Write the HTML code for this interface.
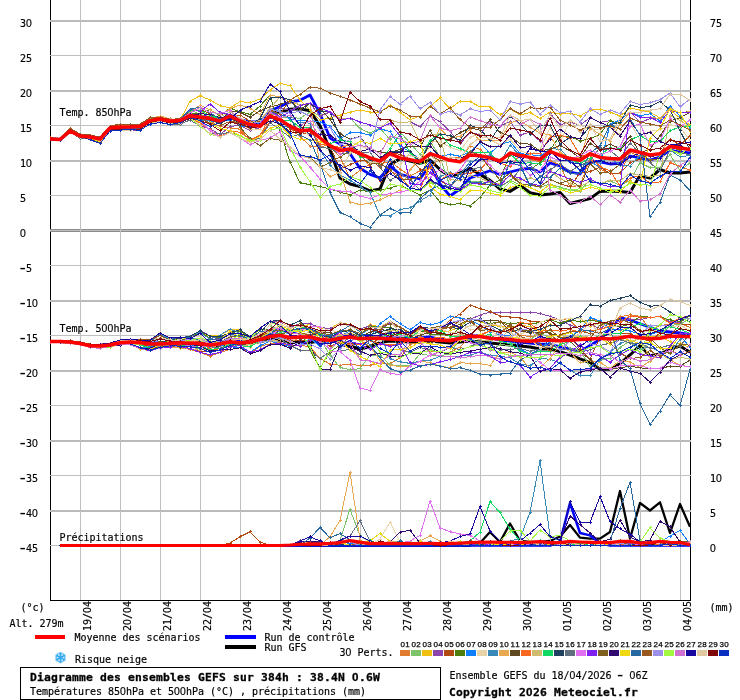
<!DOCTYPE html>
<html lang="fr"><head><meta charset="utf-8"><title>Diagramme des ensembles GEFS</title>
<style>html,body{margin:0;padding:0;background:#fff;overflow:hidden}svg{display:block}text{font-family:"DejaVu Sans Mono", "Liberation Mono", monospace;font-size:10px;fill:#000;stroke:#000;stroke-width:.18px}.b{font-weight:bold;font-size:11.3px;stroke:#000;stroke-width:.3px}.m{fill:none;stroke-width:1;stroke-linejoin:round}.c{shape-rendering:crispEdges}.t{font-size:8px;font-family:"Liberation Sans",sans-serif;stroke:#000;stroke-width:.25px}.z{font-family:"Liberation Sans",sans-serif;font-size:10.4px}.b .z{font-size:11.6px}.h{font-size:18px;stroke-width:0}</style></head><body>
<svg width="740" height="700" viewBox="0 0 740 700">
<rect width="740" height="700" fill="#fff"/>
<g shape-rendering="crispEdges" fill="#000">
<rect x="50" y="0" width="1" height="601"/>
<rect x="690" y="0" width="1" height="601"/>
<rect x="50" y="600" width="641" height="1"/>
</g>
<g shape-rendering="crispEdges">
<rect x="50" y="20" width="641" height="2" fill="#bababa"/>
<rect x="50" y="55" width="641" height="1" fill="#c0c0c0"/>
<rect x="50" y="90" width="641" height="2" fill="#bababa"/>
<rect x="50" y="125" width="641" height="1" fill="#c0c0c0"/>
<rect x="50" y="160" width="641" height="2" fill="#bababa"/>
<rect x="50" y="195" width="641" height="1" fill="#c0c0c0"/>
<rect x="50" y="229" width="641" height="3" fill="#8c8c8c"/>
<rect x="50" y="230" width="641" height="1" fill="#bdbdbd"/>
<rect x="50" y="265" width="641" height="1" fill="#c0c0c0"/>
<rect x="50" y="300" width="641" height="2" fill="#bababa"/>
<rect x="50" y="335" width="641" height="1" fill="#c0c0c0"/>
<rect x="50" y="370" width="641" height="2" fill="#bababa"/>
<rect x="50" y="405" width="641" height="1" fill="#c0c0c0"/>
<rect x="50" y="440" width="641" height="2" fill="#bababa"/>
<rect x="50" y="475" width="641" height="1" fill="#c0c0c0"/>
<rect x="50" y="510" width="641" height="2" fill="#bababa"/>
<rect x="50" y="545" width="641" height="1" fill="#c0c0c0"/>
</g>
<g shape-rendering="crispEdges">
<rect x="80" y="0" width="1" height="600" fill="#c0c0c0"/>
<rect x="120" y="0" width="1" height="600" fill="#c0c0c0"/>
<rect x="160" y="0" width="1" height="600" fill="#c0c0c0"/>
<rect x="200" y="0" width="1" height="600" fill="#c0c0c0"/>
<rect x="240" y="0" width="1" height="600" fill="#c0c0c0"/>
<rect x="280" y="0" width="1" height="600" fill="#c0c0c0"/>
<rect x="320" y="0" width="1" height="600" fill="#c0c0c0"/>
<rect x="360" y="0" width="1" height="600" fill="#c0c0c0"/>
<rect x="400" y="0" width="1" height="600" fill="#c0c0c0"/>
<rect x="440" y="0" width="1" height="600" fill="#c0c0c0"/>
<rect x="480" y="0" width="1" height="600" fill="#c0c0c0"/>
<rect x="520" y="0" width="1" height="600" fill="#c0c0c0"/>
<rect x="560" y="0" width="1" height="600" fill="#c0c0c0"/>
<rect x="600" y="0" width="1" height="600" fill="#c0c0c0"/>
<rect x="640" y="0" width="1" height="600" fill="#c0c0c0"/>
<rect x="680" y="0" width="1" height="600" fill="#c0c0c0"/>
</g>
<defs>
<marker id="k0" markerWidth="3" markerHeight="3" refX="1.5" refY="1.5" markerUnits="userSpaceOnUse"><path d="M1 0h1v1h1v1h-1v1h-1v-1h-1v-1h1z" fill="#E07B30" shape-rendering="crispEdges"/></marker>
<marker id="k1" markerWidth="3" markerHeight="3" refX="1.5" refY="1.5" markerUnits="userSpaceOnUse"><path d="M1 0h1v1h1v1h-1v1h-1v-1h-1v-1h1z" fill="#7CC36A" shape-rendering="crispEdges"/></marker>
<marker id="k2" markerWidth="3" markerHeight="3" refX="1.5" refY="1.5" markerUnits="userSpaceOnUse"><path d="M1 0h1v1h1v1h-1v1h-1v-1h-1v-1h1z" fill="#F0C010" shape-rendering="crispEdges"/></marker>
<marker id="k3" markerWidth="3" markerHeight="3" refX="1.5" refY="1.5" markerUnits="userSpaceOnUse"><path d="M1 0h1v1h1v1h-1v1h-1v-1h-1v-1h1z" fill="#8E44AD" shape-rendering="crispEdges"/></marker>
<marker id="k4" markerWidth="3" markerHeight="3" refX="1.5" refY="1.5" markerUnits="userSpaceOnUse"><path d="M1 0h1v1h1v1h-1v1h-1v-1h-1v-1h1z" fill="#B04A10" shape-rendering="crispEdges"/></marker>
<marker id="k5" markerWidth="3" markerHeight="3" refX="1.5" refY="1.5" markerUnits="userSpaceOnUse"><path d="M1 0h1v1h1v1h-1v1h-1v-1h-1v-1h1z" fill="#4E7F0E" shape-rendering="crispEdges"/></marker>
<marker id="k6" markerWidth="3" markerHeight="3" refX="1.5" refY="1.5" markerUnits="userSpaceOnUse"><path d="M1 0h1v1h1v1h-1v1h-1v-1h-1v-1h1z" fill="#1080FF" shape-rendering="crispEdges"/></marker>
<marker id="k7" markerWidth="3" markerHeight="3" refX="1.5" refY="1.5" markerUnits="userSpaceOnUse"><path d="M1 0h1v1h1v1h-1v1h-1v-1h-1v-1h1z" fill="#E8D4A8" shape-rendering="crispEdges"/></marker>
<marker id="k8" markerWidth="3" markerHeight="3" refX="1.5" refY="1.5" markerUnits="userSpaceOnUse"><path d="M1 0h1v1h1v1h-1v1h-1v-1h-1v-1h1z" fill="#3888B8" shape-rendering="crispEdges"/></marker>
<marker id="k9" markerWidth="3" markerHeight="3" refX="1.5" refY="1.5" markerUnits="userSpaceOnUse"><path d="M1 0h1v1h1v1h-1v1h-1v-1h-1v-1h1z" fill="#E8A850" shape-rendering="crispEdges"/></marker>
<marker id="k10" markerWidth="3" markerHeight="3" refX="1.5" refY="1.5" markerUnits="userSpaceOnUse"><path d="M1 0h1v1h1v1h-1v1h-1v-1h-1v-1h1z" fill="#604820" shape-rendering="crispEdges"/></marker>
<marker id="k11" markerWidth="3" markerHeight="3" refX="1.5" refY="1.5" markerUnits="userSpaceOnUse"><path d="M1 0h1v1h1v1h-1v1h-1v-1h-1v-1h1z" fill="#F86820" shape-rendering="crispEdges"/></marker>
<marker id="k12" markerWidth="3" markerHeight="3" refX="1.5" refY="1.5" markerUnits="userSpaceOnUse"><path d="M1 0h1v1h1v1h-1v1h-1v-1h-1v-1h1z" fill="#D0BC70" shape-rendering="crispEdges"/></marker>
<marker id="k13" markerWidth="3" markerHeight="3" refX="1.5" refY="1.5" markerUnits="userSpaceOnUse"><path d="M1 0h1v1h1v1h-1v1h-1v-1h-1v-1h1z" fill="#10D860" shape-rendering="crispEdges"/></marker>
<marker id="k14" markerWidth="3" markerHeight="3" refX="1.5" refY="1.5" markerUnits="userSpaceOnUse"><path d="M1 0h1v1h1v1h-1v1h-1v-1h-1v-1h1z" fill="#204060" shape-rendering="crispEdges"/></marker>
<marker id="k15" markerWidth="3" markerHeight="3" refX="1.5" refY="1.5" markerUnits="userSpaceOnUse"><path d="M1 0h1v1h1v1h-1v1h-1v-1h-1v-1h1z" fill="#607080" shape-rendering="crispEdges"/></marker>
<marker id="k16" markerWidth="3" markerHeight="3" refX="1.5" refY="1.5" markerUnits="userSpaceOnUse"><path d="M1 0h1v1h1v1h-1v1h-1v-1h-1v-1h1z" fill="#E070F0" shape-rendering="crispEdges"/></marker>
<marker id="k17" markerWidth="3" markerHeight="3" refX="1.5" refY="1.5" markerUnits="userSpaceOnUse"><path d="M1 0h1v1h1v1h-1v1h-1v-1h-1v-1h1z" fill="#8020F0" shape-rendering="crispEdges"/></marker>
<marker id="k18" markerWidth="3" markerHeight="3" refX="1.5" refY="1.5" markerUnits="userSpaceOnUse"><path d="M1 0h1v1h1v1h-1v1h-1v-1h-1v-1h1z" fill="#806020" shape-rendering="crispEdges"/></marker>
<marker id="k19" markerWidth="3" markerHeight="3" refX="1.5" refY="1.5" markerUnits="userSpaceOnUse"><path d="M1 0h1v1h1v1h-1v1h-1v-1h-1v-1h1z" fill="#300870" shape-rendering="crispEdges"/></marker>
<marker id="k20" markerWidth="3" markerHeight="3" refX="1.5" refY="1.5" markerUnits="userSpaceOnUse"><path d="M1 0h1v1h1v1h-1v1h-1v-1h-1v-1h1z" fill="#F0D810" shape-rendering="crispEdges"/></marker>
<marker id="k21" markerWidth="3" markerHeight="3" refX="1.5" refY="1.5" markerUnits="userSpaceOnUse"><path d="M1 0h1v1h1v1h-1v1h-1v-1h-1v-1h1z" fill="#2868A0" shape-rendering="crispEdges"/></marker>
<marker id="k22" markerWidth="3" markerHeight="3" refX="1.5" refY="1.5" markerUnits="userSpaceOnUse"><path d="M1 0h1v1h1v1h-1v1h-1v-1h-1v-1h1z" fill="#985820" shape-rendering="crispEdges"/></marker>
<marker id="k23" markerWidth="3" markerHeight="3" refX="1.5" refY="1.5" markerUnits="userSpaceOnUse"><path d="M1 0h1v1h1v1h-1v1h-1v-1h-1v-1h1z" fill="#9C90E8" shape-rendering="crispEdges"/></marker>
<marker id="k24" markerWidth="3" markerHeight="3" refX="1.5" refY="1.5" markerUnits="userSpaceOnUse"><path d="M1 0h1v1h1v1h-1v1h-1v-1h-1v-1h1z" fill="#A0F840" shape-rendering="crispEdges"/></marker>
<marker id="k25" markerWidth="3" markerHeight="3" refX="1.5" refY="1.5" markerUnits="userSpaceOnUse"><path d="M1 0h1v1h1v1h-1v1h-1v-1h-1v-1h1z" fill="#D070D0" shape-rendering="crispEdges"/></marker>
<marker id="k26" markerWidth="3" markerHeight="3" refX="1.5" refY="1.5" markerUnits="userSpaceOnUse"><path d="M1 0h1v1h1v1h-1v1h-1v-1h-1v-1h1z" fill="#1808A0" shape-rendering="crispEdges"/></marker>
<marker id="k27" markerWidth="3" markerHeight="3" refX="1.5" refY="1.5" markerUnits="userSpaceOnUse"><path d="M1 0h1v1h1v1h-1v1h-1v-1h-1v-1h1z" fill="#E0C8A0" shape-rendering="crispEdges"/></marker>
<marker id="k28" markerWidth="3" markerHeight="3" refX="1.5" refY="1.5" markerUnits="userSpaceOnUse"><path d="M1 0h1v1h1v1h-1v1h-1v-1h-1v-1h1z" fill="#800808" shape-rendering="crispEdges"/></marker>
<marker id="k29" markerWidth="3" markerHeight="3" refX="1.5" refY="1.5" markerUnits="userSpaceOnUse"><path d="M1 0h1v1h1v1h-1v1h-1v-1h-1v-1h1z" fill="#0830C0" shape-rendering="crispEdges"/></marker>
<clipPath id="cp"><rect x="50" y="0" width="641" height="600"/></clipPath>
</defs>
<g clip-path="url(#cp)">
<polyline class="m" points="50,139.0 60,139.5 70,131.0 80,136.0 90,137.0 100,139.5 110,128.0 120,127.0 130,127.0 140,126.0 150,120.0 160,119.0 170,121.0 180,121.0 190,116.0 200,118.0 210,119.0 220,122.0 230,117.0 240,122.0 250,124.0 260,123.0 270,113.0 280,112.0 290,109.3 300,108.8 310,110.8 320,125.8 330,150.0 340,178.0 350,184.0 360,186.5 370,190.9 380,189.0 390,164.7 400,158.6 410,161.0 420,163.4 430,160.0 440,169.5 450,176.8 460,173.0 470,168.3 480,174.4 490,180.4 500,189.0 510,191.4 520,185.3 530,192.6 540,195.0 550,194.0 560,192.6 570,203.5 580,201.0 590,198.6 600,191.4 610,191.0 620,191.4 630,192.6 640,175.6 650,178.0 660,169.5 670,173.0 680,173.0 690,172.0" stroke="#000" style="stroke-width:3"/>
<polyline class="m" points="50,139.0 60,139.5 70,131.0 80,136.0 90,137.0 100,139.0 110,128.0 120,127.0 130,127.5 140,127.0 150,121.0 160,119.5 170,121.0 180,120.0 190,115.0 200,116.0 210,117.5 220,120.0 230,115.0 240,119.5 250,122.0 260,122.0 270,111.0 280,106.4 290,102.0 300,100.3 310,95.0 320,113.7 330,138.0 340,144.0 350,153.7 360,168.3 370,174.4 380,178.0 390,165.9 400,174.4 410,176.8 420,179.0 430,164.7 440,184.0 450,196.0 460,189.0 470,178.0 480,174.4 490,170.7 500,174.4 510,172.0 520,169.5 530,168.3 540,172.0 550,163.0 560,166.0 570,172.0 580,174.0 590,161.0 600,162.0 610,164.0 620,163.4 630,156.0 640,158.0 650,160.0 660,157.0 670,150.0 680,152.0 690,153.0" stroke="#00f" style="stroke-width:2.8"/>
<polyline class="m" points="50,341.6 60,341.6 70,342.0 80,343.5 90,345.7 100,346.0 110,345.0 120,343.0 130,342.5 140,343.0 150,344.5 160,345.0 170,344.0 180,343.5 190,344.0 200,344.5 210,346.0 220,345.0 230,343.5 240,344.0 250,343.5 260,341.5 270,339.5 280,340.0 290,342.6 300,342.6 310,342.6 320,341.0 330,341.0 340,342.0 350,346.0 360,349.0 370,346.7 380,342.6 390,341.0 400,341.5 410,342.0 420,342.0 430,341.0 440,342.0 450,343.0 460,342.0 470,341.0 480,342.0 490,343.0 500,344.0 510,345.0 520,346.0 530,347.0 540,349.0 550,349.0 560,351.6 570,355.0 580,358.9 590,362.5 600,369.3 610,369.3 620,363.7 630,355.0 640,345.5 650,355.7 660,354.0 670,349.0 680,346.0 690,352.3" stroke="#000" style="stroke-width:3"/>
<polyline class="m" points="50,341.6 60,341.6 70,342.0 80,343.5 90,345.7 100,346.5 110,345.5 120,342.0 130,341.0 140,341.5 150,343.0 160,343.0 170,342.0 180,341.5 190,341.0 200,341.0 210,343.0 220,342.0 230,340.0 240,340.0 250,339.0 260,336.0 270,332.0 280,330.0 290,333.0 300,330.0 310,328.0 320,334.0 330,338.0 340,336.0 350,335.0 360,337.0 370,336.0 380,337.0 390,338.0 400,338.0 410,339.0 420,338.0 430,337.0 440,339.0 450,340.0 460,338.0 470,336.0 480,336.0 490,338.0 500,340.0 510,341.0 520,342.0 530,343.0 540,344.0 550,344.5 560,346.7 570,349.0 580,351.6 590,345.5 600,339.5 610,328.5 620,317.6 630,320.0 640,323.7 650,327.3 660,331.0 670,332.0 680,333.0 690,334.6" stroke="#00f" style="stroke-width:2.8"/>
<polyline class="m c" points="50,139.0 60,139.3 70,130.5 80,136.0 90,137.0 100,139.0 110,127.0 120,125.4 130,126.4 140,126.9 150,120.4 160,118.6 170,120.4 180,119.9 190,115.4 200,115.0 210,121.0 220,126.7 230,127.9 240,129.2 250,140.2 260,135.3 270,117.5 280,118.9 290,128.6 300,136.5 310,146.0 320,146.3 330,145.6 340,157.3 350,177.8 360,170.5 370,163.9 380,164.0 390,161.4 400,169.0 410,175.9 420,170.8 430,168.7 440,157.9 450,158.1 460,157.3 470,146.2 480,149.2 490,158.6 500,159.2 510,155.1 520,153.3 530,159.3 540,162.1 550,160.7 560,164.9 570,186.8 580,185.4 590,158.5 600,169.3 610,173.3 620,173.3 630,152.1 640,156.6 650,154.6 660,153.8 670,146.0 680,147.4 690,148.3" stroke="#E07B30" marker-start="url(#k0)" marker-mid="url(#k0)" marker-end="url(#k0)"/>
<polyline class="m c" points="50,138.9 60,139.2 70,131.1 80,135.9 90,136.8 100,138.9 110,127.9 120,126.9 130,127.0 140,126.7 150,120.4 160,118.2 170,120.6 180,119.3 190,109.2 200,114.6 210,118.2 220,121.6 230,116.8 240,120.1 250,122.7 260,125.8 270,112.8 280,117.4 290,117.8 300,118.1 310,112.1 320,115.5 330,112.0 340,118.1 350,118.0 360,128.5 370,133.2 380,128.0 390,139.8 400,131.8 410,142.9 420,154.3 430,141.4 440,156.7 450,186.4 460,188.2 470,181.3 480,181.6 490,182.9 500,187.1 510,180.1 520,184.9 530,185.0 540,187.2 550,184.1 560,187.1 570,189.9 580,191.2 590,179.7 600,183.7 610,180.9 620,185.4 630,180.8 640,162.8 650,167.7 660,167.3 670,154.6 680,170.8 690,162.9" stroke="#7CC36A" marker-start="url(#k1)" marker-mid="url(#k1)" marker-end="url(#k1)"/>
<polyline class="m c" points="50,138.7 60,139.5 70,131.6 80,136.2 90,137.2 100,139.5 110,128.1 120,127.5 130,127.1 140,127.2 150,120.5 160,119.0 170,121.1 180,120.5 190,101.0 200,95.7 210,100.0 220,105.7 230,108.0 240,101.5 250,102.8 260,99.0 270,90.0 280,83.3 290,85.8 300,100.0 310,110.0 320,120.0 330,118.0 340,115.0 350,112.0 360,110.0 370,112.0 380,112.0 390,105.0 400,112.5 410,119.8 420,116.0 430,106.4 440,97.9 450,108.8 460,101.0 470,101.5 480,106.9 490,107.0 500,114.9 510,108.8 520,114.9 530,112.5 540,118.5 550,112.0 560,114.0 570,113.0 580,116.0 590,110.0 600,109.0 610,112.0 620,116.0 630,108.0 640,110.0 650,112.0 660,118.0 670,110.0 680,118.0 690,125.0" stroke="#F0C010" marker-start="url(#k2)" marker-mid="url(#k2)" marker-end="url(#k2)"/>
<polyline class="m c" points="50,139.6 60,140.2 70,131.1 80,136.9 90,137.8 100,142.1 110,130.3 120,129.6 130,129.8 140,130.5 150,123.6 160,122.5 170,124.5 180,124.0 190,120.0 200,126.0 210,128.8 220,134.7 230,126.2 240,125.7 250,130.4 260,127.7 270,117.9 280,107.7 290,110.6 300,105.7 310,103.4 320,116.0 330,112.0 340,118.0 350,118.0 360,122.0 370,125.0 380,128.0 390,120.0 400,122.9 410,121.8 420,126.7 430,115.7 440,121.9 450,131.2 460,143.6 470,132.7 480,134.6 490,121.0 500,126.0 510,121.6 520,135.1 530,132.0 540,141.1 550,113.3 560,124.8 570,122.1 580,125.3 590,117.5 600,122.4 610,120.6 620,124.0 630,112.0 640,122.4 650,118.7 660,118.7 670,108.5 680,112.7 690,111.6" stroke="#8E44AD" marker-start="url(#k3)" marker-mid="url(#k3)" marker-end="url(#k3)"/>
<polyline class="m c" points="50,137.9 60,138.3 70,128.8 80,134.0 90,135.8 100,137.2 110,126.2 120,125.5 130,125.8 140,125.5 150,117.5 160,117.1 170,119.5 180,119.8 190,111.9 200,109.3 210,113.9 220,118.6 230,116.0 240,115.0 250,121.1 260,122.0 270,108.2 280,116.6 290,129.0 300,132.6 310,133.9 320,137.9 330,146.0 340,169.3 350,164.4 360,160.7 370,159.7 380,167.2 390,153.4 400,154.2 410,159.2 420,169.0 430,172.2 440,179.6 450,188.5 460,189.9 470,183.2 480,183.9 490,184.8 500,183.1 510,175.5 520,183.6 530,185.4 540,186.6 550,179.5 560,183.6 570,186.8 580,172.8 590,171.8 600,166.9 610,173.7 620,172.9 630,162.8 640,159.1 650,154.9 660,153.3 670,139.1 680,145.2 690,135.8" stroke="#B04A10" marker-start="url(#k4)" marker-mid="url(#k4)" marker-end="url(#k4)"/>
<polyline class="m c" points="50,138.9 60,139.1 70,130.8 80,136.3 90,137.1 100,139.5 110,128.1 120,127.4 130,127.6 140,126.6 150,120.9 160,120.0 170,121.0 180,119.1 190,113.5 200,113.0 210,109.8 220,116.0 230,108.1 240,111.8 250,114.4 260,106.0 270,95.0 280,130.7 290,162.0 300,182.9 310,184.6 320,186.5 330,189.0 340,192.0 350,195.0 360,190.0 370,192.0 380,190.0 390,188.0 400,185.0 410,190.0 420,195.0 430,190.0 440,202.0 450,204.7 460,203.5 470,206.0 480,197.4 490,185.0 500,180.0 510,154.0 520,157.8 530,169.5 540,162.8 550,149.8 560,136.2 570,136.4 580,141.0 590,138.5 600,134.4 610,120.6 620,124.0 630,112.0 640,117.5 650,117.0 660,118.7 670,108.5 680,112.7 690,111.6" stroke="#4E7F0E" marker-start="url(#k5)" marker-mid="url(#k5)" marker-end="url(#k5)"/>
<polyline class="m c" points="50,139.2 60,140.1 70,131.6 80,136.6 90,137.0 100,139.3 110,128.0 120,127.5 130,127.9 140,127.8 150,121.6 160,120.7 170,121.6 180,122.2 190,116.4 200,118.2 210,121.4 220,121.6 230,120.4 240,125.7 250,127.9 260,122.1 270,109.1 280,111.5 290,119.5 300,120.6 310,121.3 320,122.1 330,126.2 340,138.9 350,132.8 360,132.8 370,135.1 380,128.7 390,131.6 400,146.0 410,151.8 420,159.3 430,152.8 440,156.5 450,154.3 460,156.3 470,151.6 480,142.6 490,153.6 500,144.0 510,141.8 520,153.5 530,154.7 540,155.7 550,149.6 560,155.6 570,158.8 580,171.1 590,161.7 600,167.1 610,124.0 620,120.0 630,112.0 640,116.0 650,113.7 660,121.0 670,106.0 680,116.0 690,128.0" stroke="#1080FF" marker-start="url(#k6)" marker-mid="url(#k6)" marker-end="url(#k6)"/>
<polyline class="m c" points="50,139.2 60,139.5 70,130.8 80,136.0 90,137.0 100,138.9 110,127.8 120,127.5 130,127.2 140,126.2 150,120.4 160,118.5 170,120.1 180,118.8 190,109.3 200,109.4 210,117.3 220,117.9 230,116.8 240,122.4 250,129.4 260,129.5 270,116.9 280,119.7 290,124.5 300,126.8 310,136.6 320,142.6 330,143.6 340,149.1 350,142.1 360,145.3 370,150.2 380,156.7 390,155.3 400,164.8 410,153.1 420,159.3 430,141.2 440,142.2 450,147.1 460,150.9 470,137.5 480,133.2 490,139.7 500,144.7 510,139.1 520,150.4 530,154.3 540,149.7 550,127.9 560,142.3 570,120.6 580,125.3 590,129.5 600,129.1 610,126.0 620,134.5 630,122.6 640,140.0 650,131.3 660,129.9 670,124.7 680,127.1 690,140.6" stroke="#E8D4A8" marker-start="url(#k7)" marker-mid="url(#k7)" marker-end="url(#k7)"/>
<polyline class="m c" points="50,139.0 60,139.5 70,131.4 80,136.4 90,137.0 100,138.8 110,128.0 120,127.0 130,127.0 140,126.5 150,121.0 160,119.1 170,121.0 180,121.4 190,117.4 200,121.1 210,120.5 220,120.1 230,114.6 240,119.1 250,125.9 260,125.0 270,115.9 280,125.2 290,127.8 300,122.1 310,123.3 320,150.0 330,165.0 340,175.0 350,180.0 360,186.5 370,192.6 380,215.6 390,216.0 400,209.6 410,207.9 420,201.0 430,195.0 440,176.6 450,172.5 460,174.6 470,161.8 480,159.7 490,154.7 500,162.8 510,145.2 520,155.4 530,158.8 540,158.1 550,148.6 560,149.3 570,159.1 580,164.3 590,163.8 600,162.3 610,157.3 620,165.3 630,166.1 640,155.4 650,156.2 660,154.3 670,149.8 680,156.9 690,155.3" stroke="#3888B8" marker-start="url(#k8)" marker-mid="url(#k8)" marker-end="url(#k8)"/>
<polyline class="m c" points="50,138.6 60,138.4 70,130.1 80,135.3 90,136.8 100,138.7 110,128.0 120,126.1 130,126.0 140,124.2 150,118.7 160,116.0 170,118.9 180,119.9 190,112.6 200,105.1 210,109.8 220,114.9 230,108.7 240,105.0 250,108.0 260,114.9 270,95.0 280,97.0 290,102.1 300,105.0 310,103.0 320,165.0 330,176.8 340,172.0 350,202.0 360,204.7 370,203.0 380,199.9 390,195.0 400,190.0 410,169.9 420,158.5 430,146.6 440,128.4 450,138.9 460,136.0 470,129.8 480,140.6 490,140.4 500,140.0 510,122.8 520,120.4 530,127.2 540,133.0 550,135.1 560,152.8 570,157.6 580,157.4 590,128.4 600,134.1 610,141.4 620,124.0 630,112.0 640,117.5 650,117.0 660,118.7 670,108.5 680,112.9 690,111.6" stroke="#E8A850" marker-start="url(#k9)" marker-mid="url(#k9)" marker-end="url(#k9)"/>
<polyline class="m c" points="50,138.8 60,139.3 70,129.8 80,134.8 90,136.3 100,138.5 110,127.4 120,126.3 130,124.9 140,125.8 150,120.4 160,119.1 170,120.1 180,119.9 190,113.1 200,117.0 210,117.9 220,120.8 230,111.3 240,112.2 250,117.3 260,110.7 270,106.9 280,104.4 290,101.1 300,109.6 310,103.0 320,108.0 330,119.8 340,133.7 350,139.1 360,136.5 370,150.1 380,151.9 390,153.0 400,149.4 410,146.2 420,146.9 430,130.6 440,146.1 450,139.0 460,132.7 470,127.7 480,130.2 490,119.9 500,132.7 510,136.1 520,143.5 530,144.1 540,150.8 550,149.1 560,145.5 570,150.8 580,157.9 590,143.1 600,149.8 610,144.0 620,148.7 630,136.1 640,153.1 650,149.1 660,135.9 670,121.3 680,117.5 690,112.6" stroke="#604820" marker-start="url(#k10)" marker-mid="url(#k10)" marker-end="url(#k10)"/>
<polyline class="m c" points="50,139.2 60,139.9 70,131.6 80,136.3 90,136.7 100,138.7 110,128.5 120,127.8 130,129.1 140,129.3 150,122.5 160,120.3 170,123.0 180,122.6 190,118.4 200,122.9 210,129.8 220,136.4 230,131.3 240,132.2 250,139.4 260,135.6 270,121.6 280,118.5 290,126.2 300,131.1 310,128.7 320,144.3 330,145.5 340,147.5 350,144.9 360,153.3 370,166.9 380,181.2 390,171.1 400,176.1 410,188.0 420,189.9 430,164.4 440,180.4 450,173.4 460,174.1 470,173.2 480,170.5 490,157.8 500,163.1 510,166.5 520,155.3 530,153.1 540,153.0 550,137.0 560,135.1 570,138.5 580,155.1 590,155.3 600,166.8 610,170.8 620,185.9 630,178.2 640,175.6 650,183.2 660,181.9 670,162.8 680,166.3 690,170.2" stroke="#F86820" marker-start="url(#k11)" marker-mid="url(#k11)" marker-end="url(#k11)"/>
<polyline class="m c" points="50,138.0 60,138.6 70,130.3 80,135.6 90,136.4 100,138.5 110,127.1 120,125.7 130,125.9 140,125.7 150,120.0 160,118.2 170,119.6 180,119.0 190,109.0 200,111.6 210,114.9 220,117.0 230,111.8 240,118.2 250,122.9 260,120.2 270,108.2 280,97.0 290,100.0 300,105.0 310,103.2 320,108.0 330,112.0 340,118.0 350,118.0 360,122.0 370,125.0 380,128.0 390,120.0 400,122.9 410,121.8 420,142.2 430,135.5 440,133.7 450,179.7 460,180.5 470,175.2 480,177.9 490,182.6 500,184.0 510,175.5 520,180.2 530,177.9 540,181.4 550,170.8 560,178.6 570,183.6 580,186.9 590,181.1 600,183.7 610,180.1 620,181.0 630,173.2 640,175.5 650,176.5 660,175.0 670,115.7 680,120.4 690,126.7" stroke="#D0BC70" marker-start="url(#k12)" marker-mid="url(#k12)" marker-end="url(#k12)"/>
<polyline class="m c" points="50,138.8 60,138.8 70,129.9 80,135.2 90,136.1 100,138.3 110,127.5 120,126.0 130,126.3 140,126.0 150,118.9 160,118.4 170,120.2 180,118.8 190,110.7 200,110.6 210,115.3 220,119.1 230,116.0 240,121.6 250,124.5 260,125.1 270,114.6 280,120.0 290,120.1 300,127.3 310,127.3 320,138.0 330,143.8 340,139.8 350,141.9 360,157.5 370,158.3 380,160.8 390,148.5 400,134.4 410,152.2 420,163.2 430,140.0 440,134.0 450,145.0 460,148.5 470,152.8 480,152.4 490,152.7 500,162.8 510,153.8 520,163.4 530,162.8 540,164.2 550,152.8 560,155.4 570,159.1 580,163.6 590,158.0 600,155.0 610,147.7 620,149.0 630,140.0 640,135.5 650,141.6 660,141.6 670,130.7 680,127.0 690,126.0" stroke="#10D860" marker-start="url(#k13)" marker-mid="url(#k13)" marker-end="url(#k13)"/>
<polyline class="m c" points="50,139.2 60,139.6 70,131.3 80,136.1 90,137.0 100,139.5 110,128.4 120,127.5 130,126.6 140,126.6 150,120.6 160,119.9 170,123.1 180,121.4 190,115.5 200,116.9 210,119.5 220,123.8 230,118.0 240,122.5 250,124.9 260,118.7 270,98.1 280,97.0 290,100.0 300,112.7 310,103.0 320,111.3 330,112.0 340,136.8 350,146.9 360,153.6 370,160.4 380,159.3 390,152.0 400,151.7 410,151.0 420,161.7 430,143.1 440,134.0 450,135.7 460,140.2 470,125.3 480,128.8 490,140.6 500,126.0 510,116.4 520,123.5 530,134.2 540,125.8 550,125.0 560,144.0 570,137.4 580,138.5 590,126.2 600,128.0 610,125.0 620,122.0 630,105.0 640,107.6 650,106.4 660,101.5 670,110.0 680,130.7 690,150.0" stroke="#204060" marker-start="url(#k14)" marker-mid="url(#k14)" marker-end="url(#k14)"/>
<polyline class="m c" points="50,139.3 60,140.3 70,132.1 80,138.1 90,138.2 100,143.2 110,131.0 120,130.5 130,130.0 140,129.2 150,122.5 160,122.5 170,124.5 180,124.0 190,120.0 200,126.0 210,134.0 220,133.4 230,132.7 240,135.5 250,140.7 260,138.2 270,122.8 280,129.8 290,137.2 300,134.2 310,127.8 320,147.5 330,148.3 340,154.3 350,153.0 360,152.7 370,151.9 380,166.9 390,180.7 400,173.5 410,179.5 420,189.9 430,181.9 440,185.1 450,186.9 460,177.2 470,170.4 480,167.0 490,181.3 500,185.7 510,181.2 520,169.8 530,164.9 540,176.3 550,169.7 560,163.6 570,171.6 580,165.2 590,161.6 600,147.3 610,150.4 620,158.5 630,143.0 640,153.6 650,162.8 660,171.1 670,150.2 680,152.5 690,154.8" stroke="#607080" marker-start="url(#k15)" marker-mid="url(#k15)" marker-end="url(#k15)"/>
<polyline class="m c" points="50,138.4 60,139.1 70,130.4 80,135.6 90,136.6 100,138.2 110,126.9 120,126.5 130,126.6 140,126.2 150,120.6 160,119.3 170,122.6 180,122.4 190,117.6 200,120.9 210,130.3 220,137.0 230,132.6 240,138.0 250,144.6 260,140.5 270,137.9 280,131.9 290,150.0 300,156.0 310,167.0 320,179.0 330,189.0 340,191.0 350,191.4 360,196.0 370,198.6 380,195.0 390,193.8 400,192.0 410,190.0 420,180.9 430,177.7 440,169.1 450,177.2 460,169.7 470,155.6 480,155.6 490,165.4 500,174.1 510,164.5 520,164.4 530,175.3 540,170.0 550,157.0 560,160.9 570,159.1 580,155.8 590,150.0 600,154.5 610,151.5 620,146.6 630,126.6 640,123.9 650,145.4 660,141.0 670,118.8 680,126.7 690,119.9" stroke="#E070F0" marker-start="url(#k16)" marker-mid="url(#k16)" marker-end="url(#k16)"/>
<polyline class="m c" points="50,139.1 60,139.1 70,130.3 80,135.8 90,137.0 100,138.3 110,127.6 120,126.7 130,127.0 140,126.4 150,120.7 160,118.5 170,119.6 180,120.1 190,109.5 200,111.4 210,104.0 220,112.5 230,114.5 240,121.0 250,123.5 260,124.3 270,111.2 280,116.4 290,112.3 300,105.4 310,103.0 320,108.0 330,112.0 340,120.3 350,118.0 360,122.0 370,125.0 380,128.0 390,123.3 400,136.1 410,183.7 420,184.7 430,172.9 440,179.8 450,185.8 460,189.8 470,183.4 480,184.2 490,181.3 500,185.4 510,175.2 520,178.1 530,184.1 540,185.4 550,171.2 560,175.1 570,179.2 580,182.2 590,178.9 600,184.3 610,186.6 620,186.3 630,112.0 640,117.5 650,117.0 660,122.5 670,110.1 680,112.7 690,112.1" stroke="#8020F0" marker-start="url(#k17)" marker-mid="url(#k17)" marker-end="url(#k17)"/>
<polyline class="m c" points="50,139.2 60,139.7 70,131.1 80,136.5 90,138.3 100,142.3 110,130.5 120,129.8 130,128.9 140,127.8 150,120.8 160,119.1 170,121.0 180,119.9 190,116.0 200,116.2 210,116.9 220,120.0 230,117.1 240,127.1 250,138.8 260,145.8 270,138.5 280,140.0 290,147.1 300,155.6 310,157.7 320,167.3 330,162.4 340,157.1 350,150.6 360,155.4 370,164.1 380,163.4 390,169.6 400,180.2 410,179.2 420,177.1 430,155.0 440,161.1 450,160.3 460,161.7 470,151.4 480,155.4 490,168.3 500,179.9 510,173.4 520,183.6 530,185.4 540,186.4 550,179.5 560,183.6 570,179.9 580,187.1 590,163.6 600,173.1 610,171.9 620,164.3 630,150.9 640,153.5 650,160.2 660,158.4 670,147.6 680,150.0 690,147.6" stroke="#806020" marker-start="url(#k18)" marker-mid="url(#k18)" marker-end="url(#k18)"/>
<polyline class="m c" points="50,139.1 60,139.3 70,131.1 80,136.1 90,137.0 100,138.9 110,127.7 120,127.1 130,126.9 140,126.7 150,120.9 160,119.2 170,121.0 180,120.8 190,115.7 200,113.7 210,114.5 220,117.7 230,116.0 240,121.8 250,124.7 260,126.8 270,121.0 280,123.8 290,125.9 300,129.3 310,129.4 320,134.5 330,135.3 340,142.1 350,144.6 360,151.6 370,148.9 380,157.6 390,151.8 400,152.9 410,141.2 420,146.5 430,146.0 440,156.8 450,160.7 460,158.2 470,154.4 480,141.8 490,146.8 500,146.6 510,135.3 520,147.4 530,146.7 540,151.6 550,139.0 560,129.1 570,136.5 580,138.9 590,117.7 600,122.4 610,126.8 620,136.2 630,120.8 640,134.8 650,132.4 660,141.6 670,145.3 680,145.9 690,150.4" stroke="#300870" marker-start="url(#k19)" marker-mid="url(#k19)" marker-end="url(#k19)"/>
<polyline class="m c" points="50,139.0 60,139.7 70,131.3 80,137.2 90,138.2 100,141.6 110,130.4 120,130.5 130,129.1 140,129.2 150,122.9 160,121.5 170,122.9 180,122.3 190,117.2 200,121.8 210,122.6 220,128.7 230,130.6 240,135.7 250,141.4 260,136.5 270,128.3 280,125.1 290,135.6 300,139.4 310,140.0 320,141.8 330,145.8 340,154.2 350,147.3 360,141.5 370,143.3 380,138.6 390,143.9 400,143.2 410,141.8 420,139.0 430,186.4 440,194.2 450,196.5 460,199.6 470,190.6 480,190.1 490,193.4 500,195.0 510,187.7 520,184.2 530,187.5 540,192.1 550,184.2 560,189.4 570,192.8 580,190.8 590,187.2 600,189.4 610,189.9 620,192.3 630,181.6 640,185.2 650,138.1 660,128.0 670,109.1 680,112.7 690,131.9" stroke="#F0D810" marker-start="url(#k20)" marker-mid="url(#k20)" marker-end="url(#k20)"/>
<polyline class="m c" points="50,138.8 60,139.4 70,131.0 80,136.4 90,138.2 100,139.6 110,128.4 120,128.7 130,128.4 140,129.0 150,122.1 160,119.8 170,120.8 180,119.8 190,109.2 200,107.1 210,112.8 220,119.1 230,115.4 240,121.3 250,125.4 260,125.8 270,111.7 280,114.2 290,117.7 300,135.0 310,140.0 320,163.4 330,192.6 340,212.5 350,216.8 360,223.4 370,227.3 380,215.0 390,208.4 400,213.0 410,212.0 420,198.6 430,190.0 440,185.0 450,186.4 460,173.9 470,182.5 480,182.6 490,184.8 500,185.7 510,162.6 520,165.6 530,185.4 540,176.7 550,177.6 560,168.0 570,173.5 580,172.9 590,153.0 600,145.7 610,124.3 620,129.3 630,118.5 640,135.5 650,216.8 660,202.3 670,175.0 680,180.0 690,190.6" stroke="#2868A0" marker-start="url(#k21)" marker-mid="url(#k21)" marker-end="url(#k21)"/>
<polyline class="m c" points="50,138.5 60,138.7 70,128.5 80,134.0 90,135.0 100,137.0 110,126.0 120,124.0 130,124.0 140,124.0 150,117.9 160,117.6 170,119.2 180,118.8 190,115.5 200,118.0 210,123.4 220,125.6 230,121.5 240,122.9 250,128.5 260,126.2 270,110.6 280,114.2 290,100.0 300,94.3 310,87.0 320,88.2 330,93.0 340,96.2 350,100.0 360,104.0 370,108.0 380,112.0 390,106.0 400,110.0 410,116.0 420,117.0 430,106.0 440,114.0 450,107.6 460,119.8 470,127.0 480,128.0 490,127.0 500,119.8 510,108.8 520,113.7 530,107.6 540,108.8 550,107.0 560,120.0 570,125.0 580,130.0 590,126.0 600,128.0 610,126.0 620,129.0 630,118.0 640,122.0 650,124.0 660,126.0 670,120.0 680,125.0 690,130.0" stroke="#985820" marker-start="url(#k22)" marker-mid="url(#k22)" marker-end="url(#k22)"/>
<polyline class="m c" points="50,139.0 60,139.8 70,131.0 80,136.3 90,137.1 100,139.1 110,128.6 120,127.2 130,126.9 140,126.3 150,120.2 160,118.9 170,119.8 180,120.3 190,115.4 200,117.3 210,117.7 220,121.2 230,116.9 240,120.4 250,123.2 260,122.7 270,109.1 280,112.0 290,113.1 300,111.2 310,116.2 320,130.4 330,127.5 340,144.9 350,139.6 360,136.7 370,151.5 380,110.0 390,96.7 400,104.0 410,96.2 420,108.8 430,102.3 440,114.4 450,111.0 460,115.0 470,108.8 480,111.7 490,110.0 500,119.8 510,101.6 520,104.0 530,102.0 540,114.0 550,105.0 560,112.5 570,111.7 580,122.0 590,108.8 600,114.4 610,110.0 620,113.7 630,101.5 640,104.5 650,102.8 660,99.6 670,93.0 680,106.9 690,99.0" stroke="#9C90E8" marker-start="url(#k23)" marker-mid="url(#k23)" marker-end="url(#k23)"/>
<polyline class="m c" points="50,139.2 60,140.1 70,132.1 80,136.1 90,136.9 100,139.1 110,127.7 120,127.3 130,127.0 140,125.9 150,119.3 160,118.7 170,120.8 180,120.3 190,118.0 200,126.0 210,134.0 220,137.0 230,132.7 240,136.0 250,140.0 260,140.0 270,130.0 280,128.0 290,147.7 300,167.0 310,181.7 320,197.4 330,186.5 340,184.0 350,176.8 360,180.0 370,187.7 380,195.2 390,184.1 400,185.9 410,190.2 420,190.6 430,182.3 440,188.9 450,189.7 460,191.1 470,184.8 480,186.8 490,190.6 500,192.8 510,181.8 520,187.3 530,195.3 540,196.2 550,187.1 560,188.4 570,190.3 580,188.6 590,184.5 600,188.0 610,192.2 620,189.3 630,183.6 640,184.4 650,185.2 660,154.0 670,149.5 680,154.1 690,148.1" stroke="#A0F840" marker-start="url(#k24)" marker-mid="url(#k24)" marker-end="url(#k24)"/>
<polyline class="m c" points="50,139.2 60,140.1 70,132.7 80,136.8 90,137.8 100,140.0 110,128.2 120,127.4 130,127.0 140,126.5 150,120.3 160,118.7 170,121.1 180,119.4 190,113.1 200,107.5 210,112.4 220,113.7 230,110.2 240,119.9 250,123.9 260,125.7 270,112.6 280,117.7 290,115.2 300,125.2 310,121.2 320,137.8 330,145.2 340,154.5 350,147.3 360,145.4 370,147.7 380,153.8 390,136.1 400,138.5 410,144.8 420,140.7 430,115.7 440,127.9 450,131.0 460,128.1 470,117.0 480,120.7 490,124.1 500,126.0 510,115.0 520,124.9 530,119.4 540,124.3 550,190.0 560,195.0 570,202.0 580,202.0 590,196.0 600,204.7 610,195.0 620,202.0 630,190.0 640,201.0 650,199.9 660,193.8 670,174.4 680,165.0 690,160.0" stroke="#D070D0" marker-start="url(#k25)" marker-mid="url(#k25)" marker-end="url(#k25)"/>
<polyline class="m c" points="50,139.6 60,139.8 70,130.9 80,135.7 90,136.4 100,138.5 110,127.1 120,126.4 130,126.0 140,125.8 150,120.3 160,118.8 170,121.0 180,120.0 190,114.6 200,116.4 210,119.7 220,121.6 230,119.3 240,110.0 250,106.0 260,101.5 270,84.0 280,91.8 290,111.0 300,125.8 310,135.0 320,150.0 330,160.0 340,165.0 350,170.0 360,166.2 370,167.5 380,180.2 390,173.5 400,180.0 410,188.0 420,189.9 430,179.6 440,185.1 450,188.5 460,189.9 470,169.2 480,159.5 490,158.9 500,163.4 510,161.7 520,162.7 530,148.7 540,151.3 550,151.2 560,160.2 570,160.9 580,170.0 590,162.7 600,160.5 610,163.7 620,164.6 630,157.1 640,153.1 650,156.1 660,158.5 670,145.0 680,143.8 690,142.1" stroke="#1808A0" marker-start="url(#k26)" marker-mid="url(#k26)" marker-end="url(#k26)"/>
<polyline class="m c" points="50,139.1 60,140.0 70,131.5 80,137.4 90,138.1 100,140.5 110,130.5 120,130.5 130,130.0 140,129.1 150,123.7 160,121.2 170,123.1 180,123.3 190,116.9 200,125.2 210,133.4 220,137.0 230,132.7 240,138.0 250,142.6 260,139.6 270,130.0 280,139.1 290,147.1 300,155.6 310,158.7 320,167.3 330,169.6 340,173.3 350,152.5 360,150.6 370,162.0 380,162.4 390,154.5 400,158.7 410,155.4 420,158.2 430,155.4 440,162.6 450,157.8 460,158.2 470,144.9 480,137.3 490,138.2 500,137.8 510,115.0 520,120.4 530,119.4 540,132.1 550,114.6 560,127.7 570,120.6 580,132.6 590,124.8 600,141.6 610,139.2 620,118.0 630,112.0 640,112.0 650,110.0 660,108.8 670,94.3 680,94.3 690,100.3" stroke="#E0C8A0" marker-start="url(#k27)" marker-mid="url(#k27)" marker-end="url(#k27)"/>
<polyline class="m c" points="50,138.9 60,139.4 70,130.9 80,135.8 90,136.8 100,139.5 110,129.9 120,129.1 130,129.1 140,129.3 150,122.4 160,120.4 170,122.9 180,122.8 190,118.3 200,120.4 210,124.1 220,130.8 230,122.1 240,124.3 250,127.5 260,126.6 270,115.6 280,124.1 290,131.8 300,133.1 310,115.0 320,108.8 330,106.4 340,122.0 350,92.3 360,101.5 370,106.0 380,119.8 390,120.0 400,132.0 410,134.0 420,140.0 430,135.0 440,138.0 450,140.0 460,142.0 470,132.0 480,136.0 490,135.0 500,140.0 510,128.0 520,130.0 530,132.0 540,140.0 550,118.0 560,140.0 570,150.0 580,155.0 590,138.0 600,150.0 610,148.0 620,150.0 630,140.0 640,145.0 650,150.0 660,148.0 670,140.0 680,142.0 690,145.0" stroke="#800808" marker-start="url(#k28)" marker-mid="url(#k28)" marker-end="url(#k28)"/>
<polyline class="m c" points="50,139.8 60,140.0 70,131.8 80,136.6 90,139.6 100,143.5 110,131.0 120,130.2 130,129.4 140,130.5 150,124.0 160,122.5 170,124.5 180,122.7 190,117.1 200,120.9 210,126.8 220,122.0 230,116.8 240,122.8 250,126.0 260,126.7 270,117.2 280,123.8 290,133.3 300,155.6 310,156.4 320,160.0 330,155.2 340,167.4 350,177.7 360,183.6 370,170.8 380,179.2 390,159.2 400,179.4 410,188.0 420,173.3 430,161.9 440,180.4 450,175.6 460,179.1 470,164.4 480,156.4 490,157.8 500,160.5 510,153.6 520,157.9 530,169.4 540,183.9 550,153.1 560,155.8 570,162.3 580,164.0 590,181.9 600,183.1 610,184.3 620,187.2 630,174.9 640,180.7 650,183.2 660,176.2 670,171.4 680,171.9 690,157.0" stroke="#0830C0" marker-start="url(#k29)" marker-mid="url(#k29)" marker-end="url(#k29)"/>
<polyline class="m c" points="50,341.5 60,341.7 70,341.7 80,343.1 90,345.6 100,346.6 110,345.6 120,344.2 130,344.4 140,349.0 150,350.6 160,346.9 170,346.6 180,347.4 190,349.5 200,352.4 210,356.0 220,352.7 230,349.5 240,347.8 250,353.5 260,346.1 270,344.0 280,342.5 290,346.0 300,345.2 310,346.7 320,358.5 330,364.0 340,365.3 350,364.0 360,365.7 370,365.3 380,363.0 390,363.9 400,357.8 410,344.4 420,342.6 430,351.4 440,352.4 450,352.4 460,347.1 470,337.0 480,336.5 490,330.7 500,333.0 510,326.4 520,335.5 530,336.3 540,335.5 550,319.5 560,319.2 570,320.5 580,330.2 590,318.3 600,322.0 610,325.0 620,316.8 630,314.8 640,316.3 650,329.5 660,325.7 670,324.1 680,323.3 690,327.5" stroke="#E07B30" marker-start="url(#k0)" marker-mid="url(#k0)" marker-end="url(#k0)"/>
<polyline class="m c" points="50,341.2 60,341.6 70,342.3 80,343.5 90,346.4 100,347.6 110,345.9 120,343.8 130,342.9 140,344.9 150,347.7 160,345.4 170,345.4 180,345.8 190,346.3 200,349.4 210,348.1 220,344.1 230,343.5 240,341.2 250,340.1 260,335.7 270,325.1 280,331.1 290,333.6 300,328.6 310,330.9 320,338.4 330,355.0 340,367.4 350,369.8 360,368.6 370,355.0 380,355.3 390,364.6 400,365.9 410,365.9 420,353.7 430,355.6 440,355.8 450,354.0 460,338.0 470,340.8 480,341.2 490,350.8 500,344.7 510,345.3 520,340.4 530,339.7 540,333.0 550,337.7 560,340.5 570,348.7 580,350.6 590,366.6 600,359.7 610,358.2 620,347.5 630,340.7 640,353.0 650,341.8 660,335.3 670,325.4 680,324.5 690,318.3" stroke="#7CC36A" marker-start="url(#k1)" marker-mid="url(#k1)" marker-end="url(#k1)"/>
<polyline class="m c" points="50,341.0 60,340.7 70,341.6 80,343.5 90,345.6 100,345.9 110,344.9 120,342.2 130,340.5 140,340.2 150,341.3 160,334.2 170,339.7 180,338.8 190,338.4 200,332.0 210,336.0 220,335.0 230,329.9 240,330.0 250,339.0 260,334.7 270,331.5 280,328.8 290,331.6 300,328.3 310,323.9 320,328.0 330,328.6 340,322.9 350,324.4 360,331.8 370,324.4 380,327.0 390,321.1 400,332.7 410,337.1 420,328.1 430,333.2 440,332.2 450,330.9 460,326.7 470,318.4 480,321.5 490,325.2 500,326.4 510,327.6 520,325.3 530,326.5 540,332.0 550,324.9 560,325.4 570,318.7 580,318.5 590,326.8 600,323.0 610,328.2 620,330.4 630,326.7 640,337.0 650,336.5 660,335.7 670,341.8 680,343.8 690,347.5" stroke="#F0C010" marker-start="url(#k2)" marker-mid="url(#k2)" marker-end="url(#k2)"/>
<polyline class="m c" points="50,341.4 60,341.8 70,342.4 80,343.3 90,345.6 100,345.8 110,344.7 120,341.6 130,340.8 140,340.9 150,342.0 160,334.7 170,342.4 180,340.5 190,339.2 200,330.0 210,336.0 220,340.2 230,340.3 240,339.9 250,338.3 260,328.1 270,321.3 280,321.8 290,327.3 300,323.6 310,323.9 320,327.4 330,328.6 340,324.2 350,324.4 360,329.1 370,325.9 380,330.5 390,322.9 400,327.1 410,332.7 420,329.0 430,330.3 440,326.1 450,327.7 460,320.4 470,319.4 480,315.0 490,312.0 500,312.0 510,312.0 520,312.8 530,312.0 540,313.5 550,316.4 560,320.0 570,325.0 580,328.7 590,324.7 600,328.5 610,322.4 620,321.1 630,319.5 640,319.7 650,317.2 660,316.8 670,321.7 680,322.6 690,315.3" stroke="#8E44AD" marker-start="url(#k3)" marker-mid="url(#k3)" marker-end="url(#k3)"/>
<polyline class="m c" points="50,341.7 60,341.5 70,341.9 80,343.3 90,345.5 100,346.0 110,345.4 120,343.3 130,343.4 140,344.1 150,346.2 160,345.3 170,344.3 180,345.6 190,348.8 200,351.6 210,351.7 220,349.8 230,345.7 240,342.4 250,342.4 260,338.9 270,335.4 280,336.3 290,340.7 300,340.1 310,340.4 320,338.8 330,346.4 340,342.3 350,343.4 360,343.4 370,345.6 380,337.0 390,337.0 400,338.6 410,338.5 420,330.2 430,333.3 440,330.5 450,320.0 460,314.0 470,305.0 480,308.6 490,311.6 500,316.0 510,317.0 520,318.0 530,321.0 540,322.0 550,334.8 560,341.8 570,336.5 580,349.0 590,358.8 600,337.5 610,333.6 620,333.0 630,333.6 640,338.5 650,341.1 660,333.1 670,335.2 680,325.1 690,324.6" stroke="#B04A10" marker-start="url(#k4)" marker-mid="url(#k4)" marker-end="url(#k4)"/>
<polyline class="m c" points="50,341.1 60,341.2 70,341.1 80,343.1 90,345.6 100,345.8 110,345.6 120,343.4 130,342.3 140,343.1 150,344.1 160,342.4 170,341.6 180,339.0 190,339.2 200,331.8 210,338.3 220,337.3 230,332.7 240,331.2 250,337.4 260,329.7 270,330.0 280,333.8 290,332.3 300,328.8 310,350.4 320,368.0 330,352.0 340,345.1 350,336.5 360,334.2 370,326.6 380,327.2 390,327.8 400,333.2 410,336.3 420,330.6 430,334.2 440,334.2 450,335.9 460,327.7 470,318.4 480,320.9 490,323.4 500,322.2 510,323.6 520,322.8 530,324.3 540,322.3 550,319.5 560,323.1 570,320.0 580,321.8 590,320.1 600,322.0 610,324.4 620,326.9 630,324.0 640,316.3 650,317.2 660,316.8 670,319.9 680,321.5 690,315.7" stroke="#4E7F0E" marker-start="url(#k5)" marker-mid="url(#k5)" marker-end="url(#k5)"/>
<polyline class="m c" points="50,341.6 60,341.6 70,342.3 80,343.5 90,346.3 100,347.6 110,346.1 120,343.9 130,343.7 140,348.2 150,346.7 160,344.9 170,344.7 180,343.5 190,345.5 200,345.6 210,347.0 220,345.4 230,346.9 240,347.3 250,352.1 260,345.7 270,341.1 280,343.9 290,346.6 300,344.9 310,338.9 320,346.0 330,341.7 340,337.7 350,336.3 360,338.7 370,337.7 380,323.7 390,316.4 400,323.7 410,329.8 420,322.5 430,324.9 440,322.5 450,316.4 460,318.0 470,320.0 480,325.1 490,332.0 500,334.8 510,335.5 520,349.5 530,353.9 540,349.2 550,341.5 560,339.2 570,336.1 580,330.6 590,317.5 600,320.9 610,328.9 620,329.5 630,331.0 640,334.0 650,334.2 660,331.6 670,337.7 680,335.4 690,347.5" stroke="#1080FF" marker-start="url(#k6)" marker-mid="url(#k6)" marker-end="url(#k6)"/>
<polyline class="m c" points="50,341.0 60,341.2 70,341.5 80,343.1 90,344.6 100,344.8 110,344.3 120,341.6 130,340.2 140,340.1 150,341.1 160,332.7 170,338.4 180,339.3 190,336.4 200,336.6 210,343.7 220,340.4 230,336.3 240,336.6 250,339.2 260,335.5 270,324.6 280,320.8 290,327.8 300,333.0 310,326.2 320,327.1 330,330.6 340,331.7 350,332.0 360,337.1 370,335.8 380,341.3 390,336.4 400,335.1 410,334.9 420,333.7 430,330.9 440,326.1 450,322.8 460,322.2 470,329.7 480,329.0 490,330.2 500,337.3 510,336.7 520,334.6 530,330.1 540,322.3 550,318.7 560,319.2 570,318.7 580,318.0 590,324.3 600,325.2 610,326.8 620,325.6 630,322.4 640,331.7 650,331.3 660,329.5 670,327.3 680,325.0 690,330.9" stroke="#E8D4A8" marker-start="url(#k7)" marker-mid="url(#k7)" marker-end="url(#k7)"/>
<polyline class="m c" points="50,341.3 60,340.2 70,341.3 80,343.5 90,345.3 100,345.3 110,344.7 120,342.1 130,340.8 140,341.1 150,340.0 160,334.1 170,338.5 180,338.2 190,336.0 200,332.2 210,339.4 220,335.0 230,329.0 240,333.5 250,341.3 260,338.8 270,333.1 280,334.2 290,337.3 300,338.2 310,339.1 320,337.3 330,337.9 340,336.4 350,330.9 360,334.6 370,328.9 380,333.7 390,358.9 400,361.8 410,363.4 420,361.1 430,360.3 440,356.3 450,356.9 460,356.0 470,355.2 480,351.9 490,355.4 500,356.2 510,357.7 520,364.0 530,365.7 540,358.8 550,359.1 560,363.0 570,370.0 580,375.9 590,375.9 600,360.0 610,352.4 620,343.4 630,340.1 640,349.1 650,347.0 660,352.0 670,352.7 680,339.5 690,331.4" stroke="#3888B8" marker-start="url(#k8)" marker-mid="url(#k8)" marker-end="url(#k8)"/>
<polyline class="m c" points="50,341.9 60,341.5 70,341.7 80,343.4 90,345.5 100,346.9 110,346.8 120,344.5 130,344.5 140,347.8 150,349.3 160,347.8 170,347.0 180,348.0 190,348.8 200,350.3 210,348.3 220,344.3 230,345.7 240,342.3 250,347.2 260,339.9 270,341.1 280,337.1 290,342.3 300,337.6 310,338.3 320,338.1 330,338.0 340,334.0 350,334.7 360,340.6 370,346.3 380,360.5 390,365.4 400,366.5 410,366.0 420,361.3 430,362.5 440,366.0 450,367.7 460,362.7 470,363.3 480,363.6 490,365.3 500,352.8 510,352.0 520,357.2 530,368.2 540,367.2 550,358.6 560,343.9 570,352.0 580,362.9 590,360.4 600,362.5 610,368.7 620,360.4 630,362.0 640,367.8 650,361.0 660,353.8 670,359.7 680,365.2 690,366.8" stroke="#E8A850" marker-start="url(#k9)" marker-mid="url(#k9)" marker-end="url(#k9)"/>
<polyline class="m c" points="50,341.2 60,340.7 70,341.3 80,343.2 90,345.5 100,346.2 110,344.8 120,342.7 130,342.7 140,342.7 150,343.9 160,341.4 170,343.0 180,343.4 190,342.9 200,341.8 210,344.8 220,341.8 230,342.1 240,345.0 250,344.4 260,341.0 270,339.7 280,337.2 290,336.4 300,339.3 310,335.1 320,333.0 330,332.8 340,335.8 350,333.5 360,336.9 370,332.1 380,329.3 390,331.2 400,337.1 410,339.1 420,335.0 430,332.6 440,332.5 450,323.7 460,320.4 470,318.4 480,321.0 490,320.4 500,321.1 510,330.7 520,330.7 530,333.0 540,332.0 550,333.0 560,337.3 570,340.8 580,351.0 590,359.8 600,368.3 610,369.0 620,367.8 630,366.3 640,367.8 650,368.7 660,368.3 670,366.3 680,366.3 690,360.0" stroke="#604820" marker-start="url(#k10)" marker-mid="url(#k10)" marker-end="url(#k10)"/>
<polyline class="m c" points="50,341.5 60,341.8 70,342.5 80,344.2 90,346.1 100,345.8 110,344.2 120,341.8 130,341.4 140,342.6 150,344.0 160,343.5 170,344.3 180,342.8 190,340.7 200,342.4 210,349.1 220,350.3 230,344.3 240,342.7 250,342.1 260,338.4 270,337.2 280,334.6 290,337.4 300,335.8 310,335.1 320,338.2 330,337.5 340,342.2 350,344.9 360,344.3 370,340.6 380,344.1 390,345.0 400,343.6 410,340.1 420,337.6 430,338.6 440,337.2 450,338.8 460,337.7 470,336.1 480,334.8 490,330.8 500,331.5 510,331.8 520,322.8 530,323.3 540,331.6 550,329.8 560,331.1 570,329.5 580,332.0 590,330.2 600,329.8 610,325.9 620,322.6 630,316.1 640,317.0 650,317.2 660,316.8 670,323.3 680,318.3 690,315.3" stroke="#F86820" marker-start="url(#k11)" marker-mid="url(#k11)" marker-end="url(#k11)"/>
<polyline class="m c" points="50,341.5 60,341.6 70,341.8 80,342.8 90,344.5 100,345.1 110,344.5 120,341.4 130,340.3 140,339.0 150,340.0 160,338.2 170,342.0 180,340.0 190,341.3 200,340.7 210,342.9 220,343.0 230,344.9 240,342.9 250,344.6 260,342.4 270,340.7 280,339.8 290,338.6 300,336.4 310,331.3 320,330.9 330,337.3 340,335.5 350,334.0 360,338.1 370,339.1 380,335.8 390,330.1 400,331.9 410,338.1 420,340.4 430,344.3 440,339.9 450,337.9 460,333.8 470,337.2 480,339.9 490,340.6 500,338.2 510,329.6 520,330.8 530,330.6 540,338.5 550,336.4 560,335.4 570,337.2 580,336.5 590,337.1 600,337.1 610,334.6 620,339.0 630,341.6 640,338.7 650,357.1 660,353.1 670,359.9 680,357.3 690,359.0" stroke="#D0BC70" marker-start="url(#k12)" marker-mid="url(#k12)" marker-end="url(#k12)"/>
<polyline class="m c" points="50,341.5 60,341.1 70,341.0 80,343.0 90,345.9 100,346.6 110,345.8 120,343.6 130,342.9 140,345.1 150,347.7 160,345.4 170,343.3 180,344.6 190,346.4 200,345.9 210,349.6 220,348.2 230,344.4 240,345.7 250,346.8 260,340.8 270,336.7 280,332.8 290,328.3 300,326.2 310,330.0 320,333.7 330,337.9 340,337.0 350,335.7 360,337.2 370,336.9 380,337.2 390,334.5 400,334.6 410,337.7 420,330.4 430,330.3 440,330.1 450,336.4 460,336.7 470,334.3 480,336.6 490,334.4 500,341.4 510,343.7 520,351.1 530,354.3 540,351.2 550,351.1 560,344.9 570,341.0 580,336.8 590,341.0 600,334.5 610,333.8 620,333.3 630,327.0 640,323.5 650,327.0 660,330.5 670,326.6 680,329.3 690,333.3" stroke="#10D860" marker-start="url(#k13)" marker-mid="url(#k13)" marker-end="url(#k13)"/>
<polyline class="m c" points="50,341.3 60,341.0 70,341.5 80,343.2 90,345.5 100,345.6 110,343.0 120,340.2 130,339.9 140,341.9 150,342.5 160,339.4 170,340.1 180,338.1 190,336.2 200,330.9 210,336.0 220,336.7 230,332.7 240,329.8 250,336.6 260,333.3 270,321.1 280,320.8 290,325.1 300,320.9 310,332.4 320,336.1 330,337.0 340,332.4 350,330.5 360,335.2 370,334.5 380,331.8 390,328.9 400,329.2 410,336.2 420,327.1 430,328.2 440,328.6 450,327.6 460,328.5 470,322.3 480,318.7 490,325.3 500,330.0 510,333.0 520,328.8 530,332.0 540,329.2 550,325.3 560,325.0 570,320.8 580,316.4 590,304.8 600,306.2 610,300.6 620,298.2 630,295.8 640,302.3 650,306.2 660,305.5 670,312.0 680,318.0 690,322.0" stroke="#204060" marker-start="url(#k14)" marker-mid="url(#k14)" marker-end="url(#k14)"/>
<polyline class="m c" points="50,341.3 60,341.6 70,342.1 80,343.2 90,345.2 100,345.2 110,344.3 120,341.7 130,341.5 140,343.3 150,345.4 160,343.8 170,344.0 180,344.4 190,344.7 200,343.4 210,346.8 220,348.1 230,346.5 240,343.0 250,341.6 260,340.1 270,335.7 280,338.6 290,345.2 300,350.3 310,350.4 320,358.6 330,351.5 340,351.3 350,349.0 360,354.9 370,339.8 380,334.8 390,332.4 400,349.7 410,352.4 420,347.7 430,349.6 440,352.7 450,347.4 460,349.7 470,346.8 480,341.8 490,344.2 500,350.1 510,349.4 520,348.5 530,351.2 540,348.9 550,343.9 560,349.1 570,349.4 580,352.3 590,349.7 600,345.5 610,343.2 620,339.8 630,343.1 640,343.1 650,348.2 660,347.9 670,345.0 680,346.3 690,333.6" stroke="#607080" marker-start="url(#k15)" marker-mid="url(#k15)" marker-end="url(#k15)"/>
<polyline class="m c" points="50,341.4 60,340.9 70,341.2 80,342.5 90,344.4 100,344.0 110,343.4 120,340.7 130,340.4 140,340.7 150,342.4 160,338.7 170,341.0 180,342.9 190,341.9 200,342.2 210,346.1 220,344.2 230,340.1 240,337.8 250,340.7 260,337.4 270,337.7 280,327.4 290,332.2 300,330.2 310,326.7 320,327.0 330,351.6 340,351.6 350,360.0 360,388.0 370,390.4 380,369.8 390,373.4 400,374.7 410,366.0 420,361.3 430,355.0 440,352.0 450,347.2 460,339.5 470,342.8 480,345.0 490,349.1 500,352.9 510,355.3 520,355.4 530,355.4 540,362.3 550,370.2 560,370.7 570,370.2 580,369.5 590,369.0 600,368.3 610,369.0 620,365.7 630,365.7 640,365.3 650,368.7 660,368.3 670,362.1 680,365.4 690,366.8" stroke="#E070F0" marker-start="url(#k16)" marker-mid="url(#k16)" marker-end="url(#k16)"/>
<polyline class="m c" points="50,342.3 60,342.3 70,342.6 80,344.6 90,346.8 100,348.1 110,346.5 120,345.0 130,344.5 140,347.4 150,350.9 160,347.5 170,347.0 180,346.9 190,348.4 200,352.4 210,354.6 220,352.2 230,347.1 240,345.6 250,352.1 260,349.8 270,344.8 280,343.2 290,344.6 300,346.1 310,340.3 320,338.6 330,339.2 340,332.2 350,341.9 360,343.9 370,349.6 380,343.8 390,346.4 400,344.7 410,362.6 420,366.2 430,364.6 440,361.9 450,359.5 460,356.6 470,352.4 480,352.6 490,356.1 500,362.4 510,361.7 520,365.0 530,377.0 540,371.0 550,368.0 560,357.3 570,352.5 580,344.9 590,354.0 600,356.1 610,362.0 620,354.8 630,349.3 640,354.7 650,355.9 660,357.9 670,346.2 680,333.2 690,333.0" stroke="#8020F0" marker-start="url(#k17)" marker-mid="url(#k17)" marker-end="url(#k17)"/>
<polyline class="m c" points="50,342.0 60,342.1 70,342.2 80,343.7 90,346.0 100,347.4 110,346.4 120,344.4 130,344.2 140,347.7 150,348.8 160,347.3 170,345.6 180,347.1 190,346.2 200,347.5 210,344.7 220,342.2 230,337.0 240,335.5 250,336.7 260,333.4 270,329.2 280,330.7 290,331.1 300,323.4 310,329.2 320,332.9 330,334.8 340,330.6 350,329.9 360,333.4 370,328.3 380,327.0 390,324.1 400,327.1 410,332.7 420,328.6 430,328.2 440,326.1 450,328.3 460,324.2 470,318.8 480,330.7 490,329.3 500,332.4 510,324.8 520,330.0 530,330.2 540,334.7 550,329.7 560,337.6 570,338.3 580,337.0 590,338.4 600,325.0 610,321.0 620,319.2 630,322.9 640,330.5 650,338.3 660,347.7 670,353.9 680,344.5 690,345.1" stroke="#806020" marker-start="url(#k18)" marker-mid="url(#k18)" marker-end="url(#k18)"/>
<polyline class="m c" points="50,341.8 60,341.9 70,342.3 80,344.0 90,346.5 100,347.7 110,346.5 120,345.0 130,343.8 140,348.2 150,348.0 160,344.7 170,344.4 180,343.8 190,344.4 200,345.8 210,351.1 220,349.9 230,349.6 240,347.9 250,353.8 260,350.7 270,344.7 280,344.4 290,348.0 300,341.8 310,345.0 320,369.3 330,369.8 340,345.0 350,347.6 360,351.1 370,355.3 380,353.2 390,356.0 400,356.6 410,353.3 420,353.2 430,346.5 440,352.3 450,353.9 460,352.4 470,351.0 480,349.4 490,347.4 500,348.5 510,351.7 520,353.1 530,355.8 540,371.7 550,368.6 560,369.8 570,378.3 580,372.0 590,370.0 600,368.0 610,377.0 620,368.0 630,371.0 640,373.4 650,382.0 660,372.2 670,360.0 680,355.0 690,352.0" stroke="#300870" marker-start="url(#k19)" marker-mid="url(#k19)" marker-end="url(#k19)"/>
<polyline class="m c" points="50,342.1 60,342.4 70,342.7 80,344.6 90,346.5 100,348.0 110,345.4 120,343.9 130,343.9 140,349.0 150,349.2 160,344.7 170,344.3 180,343.0 190,342.0 200,339.1 210,343.0 220,340.0 230,331.5 240,338.0 250,339.9 260,337.9 270,332.2 280,325.8 290,329.6 300,332.4 310,329.8 320,336.8 330,342.3 340,341.0 350,350.0 360,356.5 370,361.0 380,366.9 390,350.0 400,349.5 410,347.8 420,341.7 430,343.9 440,345.1 450,348.6 460,340.4 470,338.4 480,334.4 490,337.6 500,338.2 510,337.3 520,338.2 530,340.4 540,340.2 550,336.1 560,335.7 570,332.6 580,337.6 590,338.3 600,337.8 610,344.3 620,336.8 630,340.4 640,343.6 650,342.5 660,348.7 670,348.8 680,336.3 690,336.1" stroke="#F0D810" marker-start="url(#k20)" marker-mid="url(#k20)" marker-end="url(#k20)"/>
<polyline class="m c" points="50,341.4 60,341.3 70,341.7 80,343.0 90,345.5 100,345.6 110,344.4 120,341.7 130,341.2 140,341.2 150,341.4 160,335.0 170,339.8 180,337.0 190,337.5 200,340.0 210,339.6 220,338.8 230,334.0 240,336.6 250,337.8 260,331.6 270,332.2 280,327.5 290,330.7 300,328.1 310,328.9 320,335.1 330,335.1 340,331.7 350,325.2 360,331.5 370,345.0 380,357.7 390,368.6 400,372.0 410,370.0 420,366.0 430,364.0 440,366.0 450,368.6 460,367.9 470,370.3 480,374.0 490,375.0 500,374.0 510,373.0 520,360.0 530,355.0 540,348.8 550,339.4 560,339.8 570,338.3 580,329.6 590,331.0 600,333.4 610,328.3 620,360.0 630,368.6 640,403.8 650,424.4 660,411.0 670,394.8 680,405.5 690,369.8" stroke="#2868A0" marker-start="url(#k21)" marker-mid="url(#k21)" marker-end="url(#k21)"/>
<polyline class="m c" points="50,341.2 60,340.8 70,340.5 80,342.0 90,344.0 100,344.3 110,343.0 120,340.4 130,340.4 140,339.8 150,340.0 160,335.4 170,340.5 180,342.3 190,342.7 200,343.1 210,343.3 220,341.5 230,338.4 240,339.2 250,340.4 260,336.5 270,331.5 280,325.0 290,334.1 300,333.3 310,334.7 320,332.2 330,330.3 340,323.2 350,324.6 360,329.1 370,329.1 380,329.6 390,321.1 400,327.1 410,334.2 420,327.7 430,332.9 440,328.4 450,327.8 460,320.4 470,321.8 480,328.4 490,325.6 500,321.4 510,326.5 520,336.4 530,339.6 540,344.5 550,350.9 560,334.8 570,331.7 580,331.1 590,333.5 600,332.2 610,342.9 620,353.0 630,358.5 640,357.6 650,350.4 660,356.7 670,350.2 680,355.3 690,351.3" stroke="#985820" marker-start="url(#k22)" marker-mid="url(#k22)" marker-end="url(#k22)"/>
<polyline class="m c" points="50,341.6 60,341.8 70,342.7 80,343.9 90,345.8 100,346.5 110,344.6 120,342.0 130,341.4 140,341.6 150,342.6 160,338.7 170,340.0 180,340.9 190,339.2 200,338.7 210,343.0 220,341.6 230,338.3 240,338.8 250,340.9 260,342.0 270,340.6 280,337.5 290,341.4 300,344.7 310,344.1 320,348.7 330,359.3 340,348.9 350,340.6 360,338.2 370,338.2 380,335.0 390,338.4 400,336.2 410,334.2 420,326.1 430,332.0 440,327.7 450,322.8 460,320.4 470,319.2 480,319.0 490,326.1 500,334.4 510,338.7 520,330.3 530,328.3 540,337.9 550,339.7 560,350.0 570,340.9 580,338.6 590,343.5 600,346.1 610,351.6 620,337.4 630,337.5 640,336.1 650,325.4 660,325.6 670,325.3 680,318.7 690,318.5" stroke="#9C90E8" marker-start="url(#k23)" marker-mid="url(#k23)" marker-end="url(#k23)"/>
<polyline class="m c" points="50,342.1 60,342.7 70,343.5 80,344.7 90,347.2 100,348.3 110,347.0 120,344.0 130,343.3 140,344.7 150,344.8 160,344.3 170,344.6 180,341.9 190,340.4 200,338.1 210,341.1 220,343.6 230,341.9 240,333.6 250,338.7 260,328.1 270,321.1 280,326.7 290,331.4 300,330.6 310,347.0 320,369.0 330,350.0 340,339.3 350,335.6 360,341.4 370,337.6 380,352.0 390,353.3 400,357.8 410,353.1 420,352.5 430,350.8 440,351.6 450,353.1 460,350.4 470,346.6 480,345.0 490,348.6 500,352.6 510,355.7 520,356.4 530,357.8 540,357.2 550,354.2 560,356.1 570,352.8 580,352.1 590,347.1 600,346.9 610,353.4 620,351.6 630,349.4 640,351.2 650,330.4 660,324.8 670,314.8 680,316.6 690,322.7" stroke="#A0F840" marker-start="url(#k24)" marker-mid="url(#k24)" marker-end="url(#k24)"/>
<polyline class="m c" points="50,342.6 60,342.8 70,343.2 80,344.7 90,347.4 100,348.5 110,346.3 120,344.5 130,344.5 140,348.8 150,349.7 160,348.0 170,345.6 180,346.4 190,345.6 200,347.8 210,344.7 220,343.8 230,339.1 240,338.5 250,340.5 260,334.5 270,329.0 280,328.8 290,332.3 300,334.4 310,336.9 320,342.2 330,348.9 340,340.1 350,342.8 360,359.9 370,361.0 380,363.4 390,354.7 400,355.0 410,339.5 420,341.8 430,353.4 440,355.9 450,356.5 460,357.3 470,356.9 480,355.2 490,356.3 500,359.0 510,356.6 520,355.6 530,354.0 540,354.6 550,354.3 560,353.7 570,353.1 580,355.9 590,352.4 600,354.8 610,355.7 620,362.3 630,357.9 640,361.1 650,359.8 660,353.3 670,350.6 680,355.2 690,344.7" stroke="#D070D0" marker-start="url(#k25)" marker-mid="url(#k25)" marker-end="url(#k25)"/>
<polyline class="m c" points="50,341.1 60,341.3 70,341.7 80,343.1 90,344.5 100,344.5 110,343.0 120,340.0 130,339.7 140,340.1 150,340.0 160,333.0 170,338.0 180,337.0 190,338.8 200,333.2 210,342.5 220,340.1 230,333.9 240,333.9 250,336.7 260,328.1 270,321.1 280,325.1 290,335.1 300,336.5 310,336.1 320,344.1 330,343.1 340,340.0 350,334.7 360,338.4 370,335.6 380,335.2 390,333.2 400,331.8 410,332.7 420,326.1 430,331.3 440,328.2 450,322.8 460,327.8 470,334.5 480,336.5 490,337.9 500,337.4 510,339.1 520,344.8 530,342.0 540,336.3 550,339.1 560,340.3 570,336.7 580,346.8 590,339.0 600,337.6 610,333.6 620,327.6 630,327.2 640,335.2 650,333.6 660,330.3 670,324.3 680,319.1 690,315.3" stroke="#1808A0" marker-start="url(#k26)" marker-mid="url(#k26)" marker-end="url(#k26)"/>
<polyline class="m c" points="50,341.3 60,340.8 70,341.4 80,343.2 90,345.3 100,345.7 110,344.3 120,341.1 130,340.0 140,341.6 150,341.2 160,337.9 170,339.8 180,341.1 190,341.3 200,339.6 210,344.1 220,343.7 230,341.0 240,339.0 250,339.0 260,333.0 270,332.4 280,324.6 290,328.1 300,326.0 310,327.5 320,331.7 330,330.3 340,322.9 350,326.3 360,330.3 370,327.7 380,327.0 390,321.1 400,332.0 410,335.8 420,330.1 430,328.3 440,328.1 450,332.8 460,331.4 470,325.2 480,326.3 490,324.4 500,325.3 510,332.7 520,337.9 530,339.0 540,348.0 550,346.1 560,340.0 570,339.9 580,333.2 590,322.5 600,334.3 610,333.4 620,308.0 630,303.0 640,308.0 650,310.0 660,305.5 670,299.4 680,301.4 690,305.5" stroke="#E0C8A0" marker-start="url(#k27)" marker-mid="url(#k27)" marker-end="url(#k27)"/>
<polyline class="m c" points="50,341.3 60,341.3 70,341.4 80,342.4 90,344.6 100,345.1 110,343.9 120,342.2 130,341.2 140,340.9 150,341.6 160,338.9 170,341.0 180,341.5 190,343.4 200,345.5 210,345.0 220,344.1 230,340.9 240,342.9 250,339.8 260,335.6 270,329.3 280,320.9 290,325.1 300,325.0 310,327.5 320,330.7 330,330.7 340,324.3 350,324.4 360,329.1 370,328.9 380,332.0 390,336.3 400,332.7 410,335.2 420,326.1 430,332.5 440,333.4 450,334.6 460,332.2 470,335.5 480,325.7 490,329.7 500,332.7 510,329.7 520,324.8 530,329.6 540,326.6 550,319.9 560,329.1 570,328.3 580,326.6 590,324.7 600,322.7 610,323.1 620,324.1 630,324.5 640,331.7 650,329.7 660,333.0 670,335.0 680,328.7 690,330.5" stroke="#800808" marker-start="url(#k28)" marker-mid="url(#k28)" marker-end="url(#k28)"/>
<polyline class="m c" points="50,341.8 60,342.0 70,342.1 80,343.7 90,346.2 100,346.8 110,345.9 120,343.7 130,343.8 140,347.7 150,350.2 160,347.5 170,345.8 180,346.1 190,346.9 200,348.0 210,352.6 220,349.9 230,345.5 240,342.8 250,341.9 260,338.9 270,334.1 280,335.9 290,338.2 300,337.6 310,335.7 320,345.5 330,339.4 340,346.1 350,340.4 360,348.3 370,339.0 380,348.7 390,353.3 400,340.5 410,351.2 420,346.1 430,346.1 440,347.3 450,346.8 460,337.5 470,338.7 480,345.1 490,342.7 500,356.7 510,361.9 520,364.6 530,368.2 540,367.2 550,370.2 560,362.5 570,370.2 580,369.5 590,368.6 600,358.6 610,353.9 620,352.0 630,347.1 640,342.7 650,344.3 660,352.4 670,358.6 680,351.7 690,357.3" stroke="#0830C0" marker-start="url(#k29)" marker-mid="url(#k29)" marker-end="url(#k29)"/>
<polyline class="m" points="60,545.5 70,545.5 80,545.5 90,545.5 100,545.5 110,545.5 120,545.5 130,545.5 140,545.5 150,545.5 160,545.5 170,545.5 180,545.5 190,545.5 200,545.5 210,545.5 220,545.5 230,545.5 240,545.5 250,545.5 260,545.5 270,545.5 280,545.5 290,545.5 300,545.5 310,545.5 320,545.5 330,545.5 340,545.5 350,545.5 360,545.5 370,545.5 380,545.5 390,545.5 400,545.5 410,545.5 420,545.5 430,545.5 440,545.5 450,545.5 460,545.5 470,545.5 480,543.0 490,532.0 500,542.0 510,523.5 520,540.8 530,542.0 540,542.0 550,541.0 560,536.5 570,525.0 580,537.6 590,538.6 600,538.6 610,532.0 620,491.0 630,538.6 640,503.0 650,510.5 660,502.3 670,533.0 680,504.0 690,526.8" stroke="#000" style="stroke-width:2.3"/>
<polyline class="m" points="60,545.5 70,545.5 80,545.5 90,545.5 100,545.5 110,545.5 120,545.5 130,545.5 140,545.5 150,545.5 160,545.5 170,545.5 180,545.5 190,545.5 200,545.5 210,545.5 220,545.5 230,545.5 240,545.5 250,545.5 260,545.5 270,545.5 280,545.5 290,545.5 300,545.5 310,545.5 320,545.5 330,545.5 340,545.5 350,545.5 360,545.5 370,545.5 380,545.5 390,545.5 400,545.5 410,545.5 420,545.5 430,545.5 440,545.5 450,545.5 460,545.5 470,545.5 480,545.5 490,545.5 500,545.5 510,545.5 520,545.5 530,545.5 540,545.5 550,545.5 560,542.0 570,503.0 580,533.0 590,535.4 600,543.0 610,545.5 620,545.5 630,545.5 640,545.5 650,545.5 660,545.5 670,545.5 680,545.5 690,545.5" stroke="#00f" style="stroke-width:2.5"/>
<polyline class="m c" points="60,545.5 70,545.5 80,545.5 90,545.5 100,545.5 110,545.5 120,545.5 130,545.5 140,545.5 150,545.5 160,545.5 170,545.5 180,545.5 190,545.5 200,545.5 210,545.5 220,545.5 230,545.5 240,545.5 250,545.5 260,545.5 270,545.5 280,545.5 290,545.5 300,545.5 310,545.5 320,545.5 330,545.5 340,545.5 350,545.5 360,545.5 370,545.5 380,545.5 390,545.5 400,541.5 410,545.5 420,541.0 430,545.5 440,545.5 450,545.5 460,545.5 470,545.5 480,545.5 490,545.5 500,545.5 510,545.5 520,545.5 530,543.8 540,545.5 550,545.5 560,545.5 570,543.7 580,545.5 590,545.5 600,542.2 610,542.4 620,545.5 630,545.5 640,545.5 650,545.5 660,545.5 670,545.5 680,542.6 690,545.5" stroke="#E07B30" marker-start="url(#k0)" marker-mid="url(#k0)" marker-end="url(#k0)"/>
<polyline class="m c" points="60,545.5 70,545.5 80,545.5 90,545.5 100,545.5 110,545.5 120,545.5 130,545.5 140,545.5 150,545.5 160,545.5 170,545.5 180,545.5 190,545.5 200,545.5 210,545.5 220,545.5 230,545.5 240,545.5 250,545.5 260,545.5 270,545.5 280,545.5 290,545.5 300,545.5 310,545.5 320,545.5 330,545.5 340,540.0 350,509.3 360,535.7 370,542.0 380,545.5 390,545.5 400,545.5 410,545.5 420,545.5 430,545.5 440,545.5 450,545.5 460,543.1 470,542.3 480,545.5 490,543.7 500,545.5 510,545.5 520,545.5 530,545.5 540,545.5 550,545.5 560,545.5 570,545.5 580,545.5 590,541.1 600,545.5 610,543.0 620,545.5 630,545.5 640,545.5 650,541.1 660,542.6 670,545.5 680,545.5 690,545.5" stroke="#7CC36A" marker-start="url(#k1)" marker-mid="url(#k1)" marker-end="url(#k1)"/>
<polyline class="m c" points="60,545.5 70,545.5 80,545.5 90,545.5 100,545.5 110,545.5 120,545.5 130,545.5 140,545.5 150,545.5 160,545.5 170,545.5 180,545.5 190,545.5 200,545.5 210,545.5 220,545.5 230,545.5 240,545.5 250,545.5 260,545.5 270,545.5 280,545.5 290,545.5 300,545.5 310,542.2 320,545.5 330,545.5 340,545.5 350,543.7 360,545.5 370,545.5 380,545.5 390,545.5 400,545.5 410,545.5 420,545.5 430,545.5 440,545.5 450,542.4 460,545.5 470,545.5 480,545.5 490,545.5 500,545.5 510,545.5 520,545.5 530,545.5 540,545.5 550,545.5 560,543.5 570,545.5 580,545.5 590,545.5 600,542.7 610,545.5 620,545.5 630,543.5 640,541.3 650,543.7 660,545.5 670,545.5 680,545.5 690,545.5" stroke="#F0C010" marker-start="url(#k2)" marker-mid="url(#k2)" marker-end="url(#k2)"/>
<polyline class="m c" points="60,545.5 70,545.5 80,545.5 90,545.5 100,545.5 110,545.5 120,545.5 130,545.5 140,545.5 150,545.5 160,545.5 170,545.5 180,545.5 190,545.5 200,545.5 210,545.5 220,545.5 230,545.5 240,545.5 250,545.5 260,545.5 270,545.5 280,545.5 290,545.5 300,540.6 310,545.5 320,545.5 330,545.5 340,545.5 350,545.5 360,542.2 370,545.5 380,545.5 390,545.5 400,542.3 410,545.5 420,545.5 430,545.5 440,545.5 450,545.5 460,545.5 470,545.5 480,545.5 490,545.5 500,545.5 510,545.5 520,545.5 530,545.5 540,545.5 550,545.5 560,545.5 570,545.5 580,545.5 590,545.5 600,545.5 610,545.5 620,545.5 630,543.3 640,543.2 650,545.5 660,545.5 670,545.5 680,545.5 690,545.5" stroke="#8E44AD" marker-start="url(#k3)" marker-mid="url(#k3)" marker-end="url(#k3)"/>
<polyline class="m c" points="60,545.5 70,545.5 80,545.5 90,545.5 100,545.5 110,545.5 120,545.5 130,545.5 140,545.5 150,545.5 160,545.5 170,545.5 180,545.5 190,545.5 200,545.5 210,545.5 220,545.5 230,543.0 240,536.8 250,531.8 260,542.0 270,545.5 280,545.5 290,545.5 300,545.5 310,545.5 320,545.5 330,545.5 340,545.5 350,545.5 360,545.5 370,545.5 380,545.5 390,545.5 400,543.1 410,543.8 420,543.4 430,545.5 440,545.5 450,545.5 460,545.5 470,540.9 480,545.5 490,545.5 500,545.5 510,545.5 520,541.9 530,545.5 540,545.5 550,545.5 560,540.8 570,545.5 580,545.5 590,545.5 600,541.3 610,545.5 620,542.9 630,541.1 640,541.5 650,545.5 660,545.5 670,545.5 680,545.5 690,545.5" stroke="#B04A10" marker-start="url(#k4)" marker-mid="url(#k4)" marker-end="url(#k4)"/>
<polyline class="m c" points="60,545.5 70,545.5 80,545.5 90,545.5 100,545.5 110,545.5 120,545.5 130,545.5 140,545.5 150,545.5 160,545.5 170,545.5 180,545.5 190,545.5 200,545.5 210,545.5 220,545.5 230,545.5 240,545.5 250,545.5 260,545.5 270,545.5 280,545.5 290,545.5 300,545.5 310,545.5 320,545.5 330,545.5 340,545.5 350,543.6 360,545.5 370,543.7 380,545.5 390,545.5 400,545.5 410,545.5 420,545.5 430,545.5 440,545.5 450,545.5 460,545.5 470,542.3 480,545.5 490,545.5 500,545.5 510,545.5 520,545.5 530,545.5 540,545.5 550,545.5 560,545.5 570,545.5 580,545.5 590,545.5 600,545.5 610,545.5 620,545.5 630,545.5 640,545.5 650,543.9 660,545.5 670,545.5 680,545.5 690,545.5" stroke="#4E7F0E" marker-start="url(#k5)" marker-mid="url(#k5)" marker-end="url(#k5)"/>
<polyline class="m c" points="60,545.5 70,545.5 80,545.5 90,545.5 100,545.5 110,545.5 120,545.5 130,545.5 140,545.5 150,545.5 160,545.5 170,545.5 180,545.5 190,545.5 200,545.5 210,545.5 220,545.5 230,545.5 240,545.5 250,545.5 260,545.5 270,545.5 280,545.5 290,545.5 300,545.5 310,542.8 320,545.5 330,545.5 340,545.5 350,543.4 360,544.3 370,545.5 380,545.5 390,545.5 400,543.0 410,545.5 420,545.5 430,545.5 440,545.5 450,542.8 460,545.5 470,545.5 480,545.5 490,545.5 500,545.5 510,541.6 520,545.5 530,541.1 540,545.5 550,544.2 560,545.5 570,543.3 580,545.5 590,545.5 600,545.5 610,545.5 620,545.5 630,545.5 640,545.5 650,540.9 660,542.0 670,536.0 680,530.4 690,544.0" stroke="#1080FF" marker-start="url(#k6)" marker-mid="url(#k6)" marker-end="url(#k6)"/>
<polyline class="m c" points="60,545.5 70,545.5 80,545.5 90,545.5 100,545.5 110,545.5 120,545.5 130,545.5 140,545.5 150,545.5 160,545.5 170,545.5 180,545.5 190,545.5 200,545.5 210,545.5 220,545.5 230,545.5 240,545.5 250,545.5 260,545.5 270,545.5 280,545.5 290,545.5 300,545.5 310,545.5 320,545.5 330,545.5 340,543.0 350,545.5 360,545.5 370,545.5 380,539.0 390,522.0 400,542.0 410,545.5 420,545.5 430,545.5 440,545.5 450,545.5 460,545.5 470,545.5 480,545.5 490,545.5 500,545.5 510,545.5 520,545.5 530,545.5 540,545.5 550,545.5 560,545.5 570,545.5 580,545.5 590,545.5 600,545.5 610,542.4 620,545.5 630,545.5 640,543.1 650,545.5 660,545.5 670,545.5 680,545.5 690,545.5" stroke="#E8D4A8" marker-start="url(#k7)" marker-mid="url(#k7)" marker-end="url(#k7)"/>
<polyline class="m c" points="60,545.5 70,545.5 80,545.5 90,545.5 100,545.5 110,545.5 120,545.5 130,545.5 140,545.5 150,545.5 160,545.5 170,545.5 180,545.5 190,545.5 200,545.5 210,545.5 220,545.5 230,545.5 240,545.5 250,545.5 260,545.5 270,545.5 280,545.5 290,545.5 300,545.5 310,545.5 320,545.5 330,545.5 340,541.5 350,545.5 360,545.5 370,545.5 380,545.5 390,545.5 400,545.5 410,545.5 420,545.5 430,541.2 440,545.5 450,545.5 460,545.5 470,545.5 480,545.5 490,545.5 500,545.5 510,541.0 520,538.6 530,512.3 540,460.8 550,536.5 560,541.0 570,543.3 580,544.3 590,545.5 600,545.5 610,545.5 620,540.7 630,545.5 640,545.5 650,545.5 660,545.5 670,545.5 680,545.5 690,545.5" stroke="#3888B8" marker-start="url(#k8)" marker-mid="url(#k8)" marker-end="url(#k8)"/>
<polyline class="m c" points="60,545.5 70,545.5 80,545.5 90,545.5 100,545.5 110,545.5 120,545.5 130,545.5 140,545.5 150,545.5 160,545.5 170,545.5 180,545.5 190,545.5 200,545.5 210,545.5 220,545.5 230,545.5 240,545.5 250,545.5 260,545.5 270,545.5 280,545.5 290,545.5 300,545.5 310,545.5 320,545.5 330,536.8 340,520.5 350,472.5 360,540.0 370,545.5 380,541.0 390,543.4 400,545.5 410,545.5 420,541.0 430,535.8 440,541.0 450,545.5 460,542.1 470,545.5 480,545.5 490,545.5 500,545.5 510,545.5 520,545.5 530,541.6 540,545.5 550,545.5 560,545.5 570,545.5 580,544.1 590,545.5 600,542.9 610,543.7 620,545.5 630,545.5 640,545.5 650,545.5 660,545.5 670,545.5 680,543.1 690,545.5" stroke="#E8A850" marker-start="url(#k9)" marker-mid="url(#k9)" marker-end="url(#k9)"/>
<polyline class="m c" points="60,545.5 70,545.5 80,545.5 90,545.5 100,545.5 110,545.5 120,545.5 130,545.5 140,545.5 150,545.5 160,545.5 170,545.5 180,545.5 190,545.5 200,545.5 210,545.5 220,545.5 230,545.5 240,545.5 250,545.5 260,545.5 270,545.5 280,545.5 290,545.5 300,543.5 310,545.5 320,541.4 330,545.5 340,545.5 350,545.5 360,545.5 370,545.5 380,545.5 390,542.8 400,544.2 410,545.5 420,545.5 430,545.5 440,545.5 450,545.5 460,545.5 470,545.5 480,545.5 490,545.5 500,545.5 510,545.5 520,545.5 530,545.5 540,545.5 550,545.5 560,545.5 570,545.5 580,545.5 590,545.5 600,542.8 610,545.5 620,545.5 630,545.5 640,541.8 650,545.5 660,545.5 670,545.5 680,545.5 690,545.5" stroke="#604820" marker-start="url(#k10)" marker-mid="url(#k10)" marker-end="url(#k10)"/>
<polyline class="m c" points="60,545.5 70,545.5 80,545.5 90,545.5 100,545.5 110,545.5 120,545.5 130,545.5 140,545.5 150,545.5 160,545.5 170,545.5 180,545.5 190,545.5 200,545.5 210,545.5 220,545.5 230,545.5 240,545.5 250,545.5 260,545.5 270,545.5 280,545.5 290,545.5 300,545.5 310,545.5 320,545.5 330,545.5 340,545.5 350,541.5 360,545.5 370,545.5 380,541.3 390,545.5 400,545.5 410,545.5 420,545.5 430,545.5 440,545.5 450,545.5 460,545.5 470,542.3 480,544.1 490,545.5 500,545.5 510,545.5 520,545.5 530,543.0 540,545.5 550,545.5 560,545.5 570,545.5 580,545.5 590,545.5 600,545.5 610,545.5 620,544.2 630,545.5 640,545.5 650,542.3 660,545.5 670,545.5 680,545.5 690,545.5" stroke="#F86820" marker-start="url(#k11)" marker-mid="url(#k11)" marker-end="url(#k11)"/>
<polyline class="m c" points="60,545.5 70,545.5 80,545.5 90,545.5 100,545.5 110,545.5 120,545.5 130,545.5 140,545.5 150,545.5 160,545.5 170,545.5 180,545.5 190,545.5 200,545.5 210,545.5 220,545.5 230,545.5 240,545.5 250,545.5 260,545.5 270,545.5 280,545.5 290,545.5 300,545.5 310,543.6 320,545.5 330,545.5 340,545.5 350,545.5 360,545.5 370,545.5 380,545.5 390,541.7 400,541.5 410,545.5 420,540.8 430,545.5 440,545.5 450,545.5 460,545.5 470,545.5 480,545.5 490,545.5 500,545.5 510,545.5 520,545.5 530,543.8 540,545.5 550,543.1 560,545.5 570,544.3 580,545.5 590,545.5 600,545.5 610,545.5 620,545.5 630,545.5 640,545.5 650,545.5 660,545.5 670,545.5 680,545.5 690,545.5" stroke="#D0BC70" marker-start="url(#k12)" marker-mid="url(#k12)" marker-end="url(#k12)"/>
<polyline class="m c" points="60,545.5 70,545.5 80,545.5 90,545.5 100,545.5 110,545.5 120,545.5 130,545.5 140,545.5 150,545.5 160,545.5 170,545.5 180,545.5 190,545.5 200,545.5 210,545.5 220,545.5 230,545.5 240,545.5 250,545.5 260,545.5 270,545.5 280,545.5 290,545.5 300,545.5 310,545.5 320,545.5 330,545.5 340,545.5 350,545.5 360,544.0 370,540.8 380,545.5 390,545.5 400,545.5 410,545.5 420,542.4 430,545.5 440,545.5 450,543.0 460,543.4 470,541.0 480,532.0 490,501.5 500,512.7 510,529.0 520,541.0 530,545.5 540,540.5 550,544.3 560,545.5 570,545.5 580,543.5 590,545.5 600,545.5 610,545.5 620,545.5 630,545.5 640,545.5 650,545.5 660,545.5 670,545.5 680,545.5 690,545.5" stroke="#10D860" marker-start="url(#k13)" marker-mid="url(#k13)" marker-end="url(#k13)"/>
<polyline class="m c" points="60,545.5 70,545.5 80,545.5 90,545.5 100,545.5 110,545.5 120,545.5 130,545.5 140,545.5 150,545.5 160,545.5 170,545.5 180,545.5 190,545.5 200,545.5 210,545.5 220,545.5 230,545.5 240,545.5 250,545.5 260,545.5 270,545.5 280,545.5 290,545.5 300,545.5 310,545.5 320,545.5 330,545.5 340,545.5 350,541.5 360,545.5 370,545.5 380,545.5 390,545.5 400,541.0 410,545.5 420,545.5 430,543.5 440,545.5 450,545.5 460,545.5 470,545.5 480,545.5 490,541.4 500,545.5 510,545.5 520,545.5 530,542.4 540,545.5 550,545.5 560,545.5 570,545.5 580,545.5 590,545.5 600,545.5 610,545.5 620,545.5 630,545.5 640,545.5 650,545.5 660,545.5 670,545.5 680,542.5 690,545.5" stroke="#204060" marker-start="url(#k14)" marker-mid="url(#k14)" marker-end="url(#k14)"/>
<polyline class="m c" points="60,545.5 70,545.5 80,545.5 90,545.5 100,545.5 110,545.5 120,545.5 130,545.5 140,545.5 150,545.5 160,545.5 170,545.5 180,545.5 190,545.5 200,545.5 210,545.5 220,545.5 230,545.5 240,545.5 250,545.5 260,545.5 270,545.5 280,545.5 290,545.5 300,545.5 310,544.3 320,545.5 330,545.5 340,541.0 350,536.0 360,520.5 370,541.0 380,545.5 390,545.5 400,545.5 410,543.2 420,545.5 430,545.5 440,545.5 450,545.5 460,545.5 470,542.7 480,545.5 490,545.5 500,545.5 510,545.5 520,545.5 530,545.5 540,545.5 550,545.5 560,545.5 570,545.5 580,545.5 590,545.5 600,545.5 610,545.5 620,541.8 630,545.5 640,545.5 650,545.5 660,545.5 670,545.5 680,545.5 690,545.5" stroke="#607080" marker-start="url(#k15)" marker-mid="url(#k15)" marker-end="url(#k15)"/>
<polyline class="m c" points="60,545.5 70,545.5 80,545.5 90,545.5 100,545.5 110,545.5 120,545.5 130,545.5 140,545.5 150,545.5 160,545.5 170,545.5 180,545.5 190,545.5 200,545.5 210,545.5 220,545.5 230,545.5 240,545.5 250,545.5 260,545.5 270,545.5 280,545.5 290,545.5 300,544.1 310,545.5 320,543.3 330,545.5 340,545.5 350,545.5 360,542.8 370,545.5 380,545.5 390,545.5 400,543.0 410,541.0 420,535.4 430,501.0 440,528.0 450,531.7 460,534.0 470,535.4 480,541.0 490,545.5 500,545.5 510,545.5 520,545.5 530,545.5 540,545.5 550,545.5 560,545.5 570,545.5 580,545.5 590,541.2 600,545.5 610,541.7 620,545.5 630,545.5 640,543.5 650,545.5 660,545.5 670,545.5 680,545.5 690,545.5" stroke="#E070F0" marker-start="url(#k16)" marker-mid="url(#k16)" marker-end="url(#k16)"/>
<polyline class="m c" points="60,545.5 70,545.5 80,545.5 90,545.5 100,545.5 110,545.5 120,545.5 130,545.5 140,545.5 150,545.5 160,545.5 170,545.5 180,545.5 190,545.5 200,545.5 210,545.5 220,545.5 230,545.5 240,545.5 250,545.5 260,545.5 270,545.5 280,545.5 290,545.5 300,543.4 310,545.5 320,545.5 330,545.5 340,545.5 350,545.5 360,545.5 370,545.5 380,545.5 390,545.5 400,545.5 410,545.5 420,545.5 430,545.5 440,545.5 450,545.5 460,543.0 470,545.5 480,542.5 490,545.5 500,545.5 510,545.5 520,544.2 530,545.5 540,545.5 550,545.5 560,545.5 570,545.5 580,545.5 590,545.5 600,545.5 610,543.8 620,545.5 630,545.5 640,545.5 650,545.5 660,545.5 670,545.5 680,545.5 690,545.5" stroke="#8020F0" marker-start="url(#k17)" marker-mid="url(#k17)" marker-end="url(#k17)"/>
<polyline class="m c" points="60,545.5 70,545.5 80,545.5 90,545.5 100,545.5 110,545.5 120,545.5 130,545.5 140,545.5 150,545.5 160,545.5 170,545.5 180,545.5 190,545.5 200,545.5 210,545.5 220,545.5 230,545.5 240,545.5 250,545.5 260,545.5 270,545.5 280,545.5 290,545.5 300,545.5 310,545.5 320,543.9 330,545.5 340,545.5 350,545.5 360,545.5 370,541.7 380,542.4 390,545.5 400,545.5 410,545.5 420,545.5 430,545.5 440,542.7 450,545.5 460,545.5 470,545.5 480,545.5 490,545.5 500,541.4 510,545.5 520,545.5 530,545.5 540,545.5 550,545.5 560,545.5 570,541.4 580,545.5 590,542.0 600,545.5 610,545.5 620,540.6 630,545.5 640,545.5 650,545.5 660,545.5 670,545.5 680,541.3 690,541.3" stroke="#806020" marker-start="url(#k18)" marker-mid="url(#k18)" marker-end="url(#k18)"/>
<polyline class="m c" points="60,545.5 70,545.5 80,545.5 90,545.5 100,545.5 110,545.5 120,545.5 130,545.5 140,545.5 150,545.5 160,545.5 170,545.5 180,545.5 190,545.5 200,545.5 210,545.5 220,545.5 230,545.5 240,545.5 250,545.5 260,545.5 270,545.5 280,545.5 290,545.5 300,542.0 310,541.6 320,540.9 330,545.5 340,545.5 350,545.5 360,545.5 370,545.5 380,545.5 390,542.0 400,532.0 410,530.4 420,543.0 430,545.5 440,544.3 450,545.5 460,542.2 470,545.5 480,545.5 490,545.5 500,543.8 510,542.4 520,542.8 530,545.5 540,541.6 550,545.5 560,541.0 570,516.0 580,524.6 590,533.0 600,542.0 610,539.0 620,520.0 630,537.0 640,542.0 650,540.0 660,521.4 670,526.8 680,542.0 690,545.5" stroke="#300870" marker-start="url(#k19)" marker-mid="url(#k19)" marker-end="url(#k19)"/>
<polyline class="m c" points="60,545.5 70,545.5 80,545.5 90,545.5 100,545.5 110,545.5 120,545.5 130,545.5 140,545.5 150,545.5 160,545.5 170,545.5 180,545.5 190,545.5 200,545.5 210,545.5 220,545.5 230,545.5 240,545.5 250,545.5 260,545.5 270,545.5 280,545.5 290,545.5 300,545.5 310,545.5 320,545.5 330,545.5 340,542.2 350,545.5 360,541.9 370,541.0 380,533.5 390,541.0 400,545.5 410,545.5 420,541.7 430,545.5 440,545.5 450,545.5 460,545.5 470,545.5 480,545.5 490,545.5 500,543.8 510,545.5 520,545.5 530,541.3 540,545.5 550,544.1 560,543.6 570,545.5 580,545.5 590,545.5 600,542.6 610,545.5 620,545.5 630,545.5 640,545.5 650,545.5 660,545.5 670,545.5 680,545.5 690,545.5" stroke="#F0D810" marker-start="url(#k20)" marker-mid="url(#k20)" marker-end="url(#k20)"/>
<polyline class="m c" points="60,545.5 70,545.5 80,545.5 90,545.5 100,545.5 110,545.5 120,545.5 130,545.5 140,545.5 150,545.5 160,545.5 170,545.5 180,545.5 190,545.5 200,545.5 210,545.5 220,545.5 230,545.5 240,545.5 250,545.5 260,545.5 270,545.5 280,545.5 290,545.5 300,545.5 310,538.0 320,527.5 330,537.8 340,533.5 350,540.0 360,545.5 370,544.4 380,545.5 390,545.5 400,540.6 410,545.5 420,545.5 430,545.5 440,545.5 450,545.5 460,545.5 470,541.5 480,545.5 490,545.5 500,545.5 510,545.5 520,545.5 530,545.5 540,543.9 550,545.5 560,545.5 570,545.5 580,545.5 590,545.5 600,541.7 610,542.0 620,508.4 630,482.4 640,540.8 650,545.5 660,545.5 670,545.5 680,545.5 690,545.5" stroke="#2868A0" marker-start="url(#k21)" marker-mid="url(#k21)" marker-end="url(#k21)"/>
<polyline class="m c" points="60,545.5 70,545.5 80,545.5 90,545.5 100,545.5 110,545.5 120,545.5 130,545.5 140,545.5 150,545.5 160,545.5 170,545.5 180,545.5 190,545.5 200,545.5 210,545.5 220,545.5 230,545.5 240,545.5 250,545.5 260,545.5 270,545.5 280,545.5 290,545.5 300,545.5 310,542.0 320,545.5 330,542.0 340,545.5 350,545.5 360,542.6 370,545.5 380,543.5 390,545.5 400,545.5 410,545.5 420,545.5 430,545.5 440,542.8 450,545.5 460,545.5 470,545.5 480,545.5 490,545.5 500,542.0 510,545.5 520,545.5 530,545.5 540,545.5 550,542.7 560,545.5 570,545.5 580,545.5 590,542.6 600,545.5 610,545.5 620,541.4 630,545.5 640,545.5 650,543.8 660,542.3 670,545.5 680,545.5 690,545.5" stroke="#985820" marker-start="url(#k22)" marker-mid="url(#k22)" marker-end="url(#k22)"/>
<polyline class="m c" points="60,545.5 70,545.5 80,545.5 90,545.5 100,545.5 110,545.5 120,545.5 130,545.5 140,545.5 150,545.5 160,545.5 170,545.5 180,545.5 190,545.5 200,545.5 210,545.5 220,545.5 230,545.5 240,545.5 250,545.5 260,545.5 270,545.5 280,545.5 290,545.5 300,545.5 310,545.5 320,545.5 330,545.5 340,540.6 350,541.9 360,545.5 370,545.5 380,545.5 390,545.5 400,545.5 410,545.5 420,545.5 430,545.5 440,545.5 450,545.5 460,545.5 470,545.5 480,545.5 490,545.5 500,545.5 510,545.5 520,545.5 530,545.5 540,545.5 550,541.4 560,545.5 570,545.5 580,545.5 590,545.5 600,545.5 610,545.5 620,542.9 630,545.5 640,545.5 650,545.5 660,545.5 670,545.5 680,545.5 690,545.5" stroke="#9C90E8" marker-start="url(#k23)" marker-mid="url(#k23)" marker-end="url(#k23)"/>
<polyline class="m c" points="60,545.5 70,545.5 80,545.5 90,545.5 100,545.5 110,545.5 120,545.5 130,545.5 140,545.5 150,545.5 160,545.5 170,545.5 180,545.5 190,545.5 200,545.5 210,545.5 220,545.5 230,545.5 240,545.5 250,545.5 260,545.5 270,545.5 280,545.5 290,545.5 300,545.5 310,545.5 320,545.5 330,545.5 340,545.5 350,545.5 360,545.5 370,542.6 380,545.5 390,545.5 400,545.5 410,542.6 420,545.5 430,545.5 440,543.2 450,542.9 460,541.8 470,545.5 480,545.5 490,545.5 500,541.0 510,531.0 520,530.4 530,541.0 540,530.0 550,537.0 560,535.0 570,541.0 580,545.5 590,545.5 600,545.5 610,545.5 620,545.5 630,545.5 640,542.0 650,527.8 660,538.0 670,542.0 680,545.5 690,545.5" stroke="#A0F840" marker-start="url(#k24)" marker-mid="url(#k24)" marker-end="url(#k24)"/>
<polyline class="m c" points="60,545.5 70,545.5 80,545.5 90,545.5 100,545.5 110,545.5 120,545.5 130,545.5 140,545.5 150,545.5 160,545.5 170,545.5 180,545.5 190,545.5 200,545.5 210,545.5 220,545.5 230,545.5 240,545.5 250,545.5 260,545.5 270,545.5 280,545.5 290,545.5 300,545.5 310,545.5 320,545.5 330,545.5 340,545.5 350,545.5 360,545.5 370,545.5 380,545.5 390,545.5 400,545.5 410,543.3 420,545.5 430,545.5 440,545.5 450,545.5 460,545.5 470,545.5 480,545.5 490,545.5 500,545.5 510,545.5 520,542.0 530,545.5 540,545.5 550,545.5 560,545.5 570,545.5 580,545.5 590,545.5 600,545.5 610,545.5 620,545.5 630,545.5 640,545.5 650,545.5 660,545.5 670,543.5 680,545.5 690,541.4" stroke="#D070D0" marker-start="url(#k25)" marker-mid="url(#k25)" marker-end="url(#k25)"/>
<polyline class="m c" points="60,545.5 70,545.5 80,545.5 90,545.5 100,545.5 110,545.5 120,545.5 130,545.5 140,545.5 150,545.5 160,545.5 170,545.5 180,545.5 190,545.5 200,545.5 210,545.5 220,545.5 230,545.5 240,545.5 250,545.5 260,545.5 270,545.5 280,545.5 290,545.5 300,541.0 310,536.8 320,541.0 330,545.5 340,540.0 350,536.0 360,536.0 370,541.0 380,545.5 390,545.5 400,545.5 410,545.5 420,545.5 430,545.5 440,542.9 450,541.0 460,536.5 470,533.9 480,506.6 490,531.0 500,541.0 510,545.5 520,541.0 530,533.0 540,524.6 550,536.5 560,540.0 570,501.9 580,522.4 590,522.4 600,496.5 610,521.4 620,528.9 630,534.0 640,542.0 650,545.5 660,545.5 670,545.5 680,545.5 690,545.5" stroke="#1808A0" marker-start="url(#k26)" marker-mid="url(#k26)" marker-end="url(#k26)"/>
<polyline class="m c" points="60,545.5 70,545.5 80,545.5 90,545.5 100,545.5 110,545.5 120,545.5 130,545.5 140,545.5 150,545.5 160,545.5 170,545.5 180,545.5 190,545.5 200,545.5 210,545.5 220,545.5 230,545.5 240,545.5 250,545.5 260,545.5 270,545.5 280,545.5 290,545.5 300,545.5 310,545.5 320,545.5 330,545.5 340,545.5 350,545.5 360,545.5 370,542.6 380,543.2 390,541.5 400,545.5 410,545.5 420,545.5 430,543.7 440,545.5 450,541.2 460,543.2 470,545.5 480,545.5 490,545.5 500,545.5 510,545.5 520,540.7 530,541.8 540,545.5 550,545.5 560,545.5 570,542.2 580,545.5 590,541.3 600,545.5 610,541.3 620,545.5 630,545.5 640,545.5 650,545.5 660,545.5 670,545.5 680,545.5 690,542.8" stroke="#E0C8A0" marker-start="url(#k27)" marker-mid="url(#k27)" marker-end="url(#k27)"/>
<polyline class="m c" points="60,545.5 70,545.5 80,545.5 90,545.5 100,545.5 110,545.5 120,545.5 130,545.5 140,545.5 150,545.5 160,545.5 170,545.5 180,545.5 190,545.5 200,545.5 210,545.5 220,545.5 230,545.5 240,545.5 250,545.5 260,545.5 270,545.5 280,545.5 290,545.5 300,545.5 310,545.5 320,545.5 330,542.5 340,545.5 350,545.5 360,545.5 370,545.5 380,541.0 390,543.4 400,545.5 410,545.5 420,545.5 430,545.5 440,545.5 450,545.5 460,545.5 470,545.5 480,545.5 490,545.5 500,545.5 510,545.5 520,545.5 530,545.5 540,545.5 550,545.5 560,541.6 570,545.5 580,545.5 590,545.5 600,545.5 610,545.5 620,545.5 630,545.5 640,545.5 650,545.5 660,541.6 670,545.5 680,543.1 690,545.5" stroke="#800808" marker-start="url(#k28)" marker-mid="url(#k28)" marker-end="url(#k28)"/>
<polyline class="m c" points="60,545.5 70,545.5 80,545.5 90,545.5 100,545.5 110,545.5 120,545.5 130,545.5 140,545.5 150,545.5 160,545.5 170,545.5 180,545.5 190,545.5 200,545.5 210,545.5 220,545.5 230,545.5 240,545.5 250,545.5 260,545.5 270,545.5 280,545.5 290,545.5 300,545.5 310,543.0 320,542.0 330,545.5 340,545.5 350,545.5 360,545.5 370,545.5 380,545.5 390,545.5 400,545.5 410,545.5 420,545.5 430,545.5 440,543.8 450,545.5 460,545.5 470,545.5 480,545.5 490,545.5 500,545.5 510,541.1 520,545.5 530,545.5 540,545.5 550,545.5 560,545.5 570,545.5 580,545.5 590,545.5 600,545.5 610,545.5 620,545.5 630,545.5 640,542.4 650,545.5 660,545.5 670,543.5 680,545.5 690,545.5" stroke="#0830C0" marker-start="url(#k29)" marker-mid="url(#k29)" marker-end="url(#k29)"/>
<polyline class="m" points="50,139.0 60,139.5 70,131.0 80,136.0 90,137.0 100,139.0 110,128.0 120,127.0 130,127.0 140,126.5 150,120.5 160,119.0 170,121.0 180,120.5 190,115.7 200,117.0 210,118.6 220,121.0 230,116.0 240,121.0 250,124.6 260,126.3 270,116.0 280,119.8 290,126.3 300,130.7 310,130.0 320,138.0 330,145.7 340,150.6 350,149.0 360,153.7 370,157.9 380,161.0 390,153.7 400,157.9 410,159.8 420,161.7 430,153.7 440,156.9 450,160.3 460,161.7 470,155.0 480,155.7 490,157.9 500,161.0 510,153.0 520,155.4 530,157.4 540,159.3 550,151.3 560,155.4 570,158.6 580,160.3 590,153.7 600,157.4 610,158.6 620,159.0 630,150.0 640,152.5 650,155.0 660,153.7 670,146.5 680,147.7 690,149.6" stroke="#f00" style="stroke-width:3.5"/>
<polyline class="m" points="50,341.6 60,341.6 70,342.0 80,343.5 90,345.7 100,346.0 110,345.0 120,342.7 130,342.0 140,342.7 150,344.0 160,344.0 170,343.5 180,343.0 190,343.0 200,343.5 210,345.0 220,343.8 230,342.0 240,342.7 250,342.0 260,339.5 270,336.6 280,335.3 290,337.8 300,337.0 310,337.0 320,339.5 330,340.2 340,338.3 350,337.0 360,338.7 370,338.3 380,338.3 390,339.0 400,339.5 410,340.2 420,339.7 430,339.5 440,340.2 450,340.7 460,338.3 470,336.3 480,336.6 490,338.3 500,339.0 510,339.5 520,340.7 530,341.2 540,340.2 550,340.2 560,340.7 570,340.2 580,339.5 590,339.0 600,338.3 610,339.0 620,337.8 630,336.3 640,337.8 650,338.7 660,338.3 670,336.3 680,336.3 690,336.8" stroke="#f00" style="stroke-width:3.5"/>
<polyline class="m" points="60,545.5 70,545.5 80,545.5 90,545.5 100,545.5 110,545.5 120,545.5 130,545.5 140,545.5 150,545.5 160,545.5 170,545.5 180,545.5 190,545.5 200,545.5 210,545.5 220,545.5 230,545.5 240,545.5 250,545.5 260,545.5 270,545.5 280,545.5 290,545.0 300,544.2 310,543.9 320,543.9 330,543.4 340,542.6 350,540.6 360,542.1 370,543.6 380,543.6 390,543.4 400,543.6 410,543.6 420,543.6 430,543.2 440,543.6 450,543.6 460,543.1 470,542.6 480,542.2 490,542.0 500,542.4 510,542.2 520,542.6 530,542.2 540,541.6 550,542.6 560,542.6 570,541.4 580,542.0 590,542.4 600,542.2 610,542.6 620,541.4 630,541.4 640,543.0 650,542.6 660,541.4 670,542.2 680,542.6 690,544.8" stroke="#f00" style="stroke-width:3.1"/>
</g>
<g style="will-change:transform">
<text x="20 26" y="27">3<tspan class="z">0</tspan></text>
<text x="20 26" y="62">25</text>
<text x="20 26" y="97">2<tspan class="z">0</tspan></text>
<text x="20 26" y="132">15</text>
<text x="20 26" y="167">1<tspan class="z">0</tspan></text>
<text x="20" y="202">5</text>
<text x="20" y="237"><tspan class="z">0</tspan></text>
<text x="17.2 26" y="273.1 272"><tspan class="h">-</tspan>5</text>
<text x="17.2 26 32" y="308.1 307 307"><tspan class="h">-</tspan>1<tspan class="z">0</tspan></text>
<text x="17.2 26 32" y="343.1 342 342"><tspan class="h">-</tspan>15</text>
<text x="17.2 26 32" y="378.1 377 377"><tspan class="h">-</tspan>2<tspan class="z">0</tspan></text>
<text x="17.2 26 32" y="413.1 412 412"><tspan class="h">-</tspan>25</text>
<text x="17.2 26 32" y="448.1 447 447"><tspan class="h">-</tspan>3<tspan class="z">0</tspan></text>
<text x="17.2 26 32" y="483.1 482 482"><tspan class="h">-</tspan>35</text>
<text x="17.2 26 32" y="518.1 517 517"><tspan class="h">-</tspan>4<tspan class="z">0</tspan></text>
<text x="17.2 26 32" y="553.1 552 552"><tspan class="h">-</tspan>45</text>
<text x="710 716" y="27">75</text>
<text x="710 716" y="62">7<tspan class="z">0</tspan></text>
<text x="710 716" y="97">65</text>
<text x="710 716" y="132">6<tspan class="z">0</tspan></text>
<text x="710 716" y="167">55</text>
<text x="710 716" y="202">5<tspan class="z">0</tspan></text>
<text x="710 716" y="237">45</text>
<text x="710 716" y="272">4<tspan class="z">0</tspan></text>
<text x="710 716" y="307">35</text>
<text x="710 716" y="342">3<tspan class="z">0</tspan></text>
<text x="710 716" y="377">25</text>
<text x="710 716" y="412">2<tspan class="z">0</tspan></text>
<text x="710 716" y="447">15</text>
<text x="710 716" y="482">1<tspan class="z">0</tspan></text>
<text x="710" y="517">5</text>
<text x="710" y="552"><tspan class="z">0</tspan></text>
<text x="59.5 65.5 71.5 77.5 83.5 89.5 95.5 101.5 107.5 113.5 119.5 125.5" y="116">Temp. 85<tspan class="z">0</tspan>hPa</text>
<text x="59.5 65.5 71.5 77.5 83.5 89.5 95.5 101.5 107.5 113.5 119.5 125.5" y="332">Temp. 5<tspan class="z">00</tspan>hPa</text>
<text x="59.5 65.5 71.5 77.5 83.5 89.5 95.5 101.5 107.5 113.5 119.5 125.5 131.5 137.5" y="541">Précipitations</text>
<text x="20.5 26.5 32.5 38.5" y="611">(°c)</text>
<text x="9.5 15.5 21.5 27.5 33.5 39.5 45.5 51.5 57.5" y="627">Alt. 279m</text>
<text x="709.5 715.5 721.5 727.5" y="611">(mm)</text>
<text transform="translate(91,631) rotate(-90)" x="0 6 12 18 24" y="0">19/<tspan class="z">0</tspan>4</text>
<text transform="translate(131,631) rotate(-90)" x="0 6 12 18 24" y="0">2<tspan class="z">0</tspan>/<tspan class="z">0</tspan>4</text>
<text transform="translate(171,631) rotate(-90)" x="0 6 12 18 24" y="0">21/<tspan class="z">0</tspan>4</text>
<text transform="translate(211,631) rotate(-90)" x="0 6 12 18 24" y="0">22/<tspan class="z">0</tspan>4</text>
<text transform="translate(251,631) rotate(-90)" x="0 6 12 18 24" y="0">23/<tspan class="z">0</tspan>4</text>
<text transform="translate(291,631) rotate(-90)" x="0 6 12 18 24" y="0">24/<tspan class="z">0</tspan>4</text>
<text transform="translate(331,631) rotate(-90)" x="0 6 12 18 24" y="0">25/<tspan class="z">0</tspan>4</text>
<text transform="translate(371,631) rotate(-90)" x="0 6 12 18 24" y="0">26/<tspan class="z">0</tspan>4</text>
<text transform="translate(411,631) rotate(-90)" x="0 6 12 18 24" y="0">27/<tspan class="z">0</tspan>4</text>
<text transform="translate(451,631) rotate(-90)" x="0 6 12 18 24" y="0">28/<tspan class="z">0</tspan>4</text>
<text transform="translate(491,631) rotate(-90)" x="0 6 12 18 24" y="0">29/<tspan class="z">0</tspan>4</text>
<text transform="translate(531,631) rotate(-90)" x="0 6 12 18 24" y="0">3<tspan class="z">0</tspan>/<tspan class="z">0</tspan>4</text>
<text transform="translate(571,631) rotate(-90)" x="0 6 12 18 24" y="0"><tspan class="z">0</tspan>1/<tspan class="z">0</tspan>5</text>
<text transform="translate(611,631) rotate(-90)" x="0 6 12 18 24" y="0"><tspan class="z">0</tspan>2/<tspan class="z">0</tspan>5</text>
<text transform="translate(651,631) rotate(-90)" x="0 6 12 18 24" y="0"><tspan class="z">0</tspan>3/<tspan class="z">0</tspan>5</text>
<text transform="translate(691,631) rotate(-90)" x="0 6 12 18 24" y="0"><tspan class="z">0</tspan>4/<tspan class="z">0</tspan>5</text>
<rect x="35" y="635" width="30" height="4" fill="#f00"/>
<text x="74.5 80.5 86.5 92.5 98.5 104.5 110.5 116.5 122.5 128.5 134.5 140.5 146.5 152.5 158.5 164.5 170.5 176.5 182.5 188.5 194.5" y="641">Moyenne des scénarios</text>
<rect x="225" y="635" width="31" height="4" fill="#00f"/>
<rect x="225" y="645" width="31" height="4" fill="#000"/>
<text x="264.5 270.5 276.5 282.5 288.5 294.5 300.5 306.5 312.5 318.5 324.5 330.5 336.5 342.5 348.5" y="641">Run de contrôle</text>
<text x="264.5 270.5 276.5 282.5 288.5 294.5 300.5" y="651">Run GFS</text>
<text x="339.5 345.5 351.5 357.5 363.5 369.5 375.5 381.5 387.5" y="656">3<tspan class="z">0</tspan> Perts.</text>
<g transform="translate(60.5,657.6) scale(.95)"><polygon points="0.0,-5.9 -5.1,-2.9 -5.1,3.0 -0.0,5.9 5.1,3.0 5.1,-3.0" fill="#46b4f0" stroke="#a8d6f8" stroke-width="1" stroke-linejoin="round"/><circle cx="3.1" cy="0.0" r="1" fill="#c4e6fb"/><circle cx="1.6" cy="2.7" r="1" fill="#c4e6fb"/><circle cx="-1.5" cy="2.7" r="1" fill="#c4e6fb"/><circle cx="-3.1" cy="0.0" r="1" fill="#c4e6fb"/><circle cx="-1.6" cy="-2.7" r="1" fill="#c4e6fb"/><circle cx="1.6" cy="-2.7" r="1" fill="#c4e6fb"/><path d="M0-5V5M-4.3-2.5L4.3 2.5M-4.3 2.5L4.3-2.5" stroke="#2fa8ee" stroke-width="1" fill="none"/></g>
<text x="75 81 87 93 99 105 111 117 123 129 135 141" y="663">Risque neige</text>
<rect x="400" y="650" width="10" height="6" fill="#E07B30" shape-rendering="crispEdges"/>
<text class="t" x="400.6 405.2" y="647">01</text>
<rect x="411" y="650" width="10" height="6" fill="#7CC36A" shape-rendering="crispEdges"/>
<text class="t" x="411.6 416.2" y="647">02</text>
<rect x="422" y="650" width="10" height="6" fill="#F0C010" shape-rendering="crispEdges"/>
<text class="t" x="422.6 427.2" y="647">03</text>
<rect x="433" y="650" width="10" height="6" fill="#8E44AD" shape-rendering="crispEdges"/>
<text class="t" x="433.6 438.2" y="647">04</text>
<rect x="444" y="650" width="10" height="6" fill="#B04A10" shape-rendering="crispEdges"/>
<text class="t" x="444.6 449.2" y="647">05</text>
<rect x="455" y="650" width="10" height="6" fill="#4E7F0E" shape-rendering="crispEdges"/>
<text class="t" x="455.6 460.2" y="647">06</text>
<rect x="466" y="650" width="10" height="6" fill="#1080FF" shape-rendering="crispEdges"/>
<text class="t" x="466.6 471.2" y="647">07</text>
<rect x="477" y="650" width="10" height="6" fill="#E8D4A8" shape-rendering="crispEdges"/>
<text class="t" x="477.6 482.2" y="647">08</text>
<rect x="488" y="650" width="10" height="6" fill="#3888B8" shape-rendering="crispEdges"/>
<text class="t" x="488.6 493.2" y="647">09</text>
<rect x="499" y="650" width="10" height="6" fill="#E8A850" shape-rendering="crispEdges"/>
<text class="t" x="499.6 504.2" y="647">10</text>
<rect x="510" y="650" width="10" height="6" fill="#604820" shape-rendering="crispEdges"/>
<text class="t" x="510.6 515.2" y="647">11</text>
<rect x="521" y="650" width="10" height="6" fill="#F86820" shape-rendering="crispEdges"/>
<text class="t" x="521.6 526.2" y="647">12</text>
<rect x="532" y="650" width="10" height="6" fill="#D0BC70" shape-rendering="crispEdges"/>
<text class="t" x="532.6 537.2" y="647">13</text>
<rect x="543" y="650" width="10" height="6" fill="#10D860" shape-rendering="crispEdges"/>
<text class="t" x="543.6 548.2" y="647">14</text>
<rect x="554" y="650" width="10" height="6" fill="#204060" shape-rendering="crispEdges"/>
<text class="t" x="554.6 559.2" y="647">15</text>
<rect x="565" y="650" width="10" height="6" fill="#607080" shape-rendering="crispEdges"/>
<text class="t" x="565.6 570.2" y="647">16</text>
<rect x="576" y="650" width="10" height="6" fill="#E070F0" shape-rendering="crispEdges"/>
<text class="t" x="576.6 581.2" y="647">17</text>
<rect x="587" y="650" width="10" height="6" fill="#8020F0" shape-rendering="crispEdges"/>
<text class="t" x="587.6 592.2" y="647">18</text>
<rect x="598" y="650" width="10" height="6" fill="#806020" shape-rendering="crispEdges"/>
<text class="t" x="598.6 603.2" y="647">19</text>
<rect x="609" y="650" width="10" height="6" fill="#300870" shape-rendering="crispEdges"/>
<text class="t" x="609.6 614.2" y="647">20</text>
<rect x="620" y="650" width="10" height="6" fill="#F0D810" shape-rendering="crispEdges"/>
<text class="t" x="620.6 625.2" y="647">21</text>
<rect x="631" y="650" width="10" height="6" fill="#2868A0" shape-rendering="crispEdges"/>
<text class="t" x="631.6 636.2" y="647">22</text>
<rect x="642" y="650" width="10" height="6" fill="#985820" shape-rendering="crispEdges"/>
<text class="t" x="642.6 647.2" y="647">23</text>
<rect x="653" y="650" width="10" height="6" fill="#9C90E8" shape-rendering="crispEdges"/>
<text class="t" x="653.6 658.2" y="647">24</text>
<rect x="664" y="650" width="10" height="6" fill="#A0F840" shape-rendering="crispEdges"/>
<text class="t" x="664.6 669.2" y="647">25</text>
<rect x="675" y="650" width="10" height="6" fill="#D070D0" shape-rendering="crispEdges"/>
<text class="t" x="675.6 680.2" y="647">26</text>
<rect x="686" y="650" width="10" height="6" fill="#1808A0" shape-rendering="crispEdges"/>
<text class="t" x="686.6 691.2" y="647">27</text>
<rect x="697" y="650" width="10" height="6" fill="#E0C8A0" shape-rendering="crispEdges"/>
<text class="t" x="697.6 702.2" y="647">28</text>
<rect x="708" y="650" width="10" height="6" fill="#800808" shape-rendering="crispEdges"/>
<text class="t" x="708.6 713.2" y="647">29</text>
<rect x="719" y="650" width="10" height="6" fill="#0830C0" shape-rendering="crispEdges"/>
<text class="t" x="719.6 724.2" y="647">30</text>
<rect x="20.5" y="667.5" width="420" height="32" fill="#fff" stroke="#000" stroke-width="1" shape-rendering="crispEdges"/>
<text class="b" x="30 37 44 51 58 65 72 79 86 93 100 107 114 121 128 135 142 149 156 163 170 177 184 191 198 205 212 219 226 233 240 247 254 261 268 275 282 289 296 303 310 317 324 331 338 345 352 359 366 373" y="681">Diagramme des ensembles GEFS sur 384h : 38.4N <tspan class="z">0</tspan>.6W</text>
<text x="30 36 42 48 54 60 66 72 78 84 90 96 102 108 114 120 126 132 138 144 150 156 162 168 174 180 186 192 198 204 210 216 222 228 234 240 246 252 258 264 270 276 282 288 294 300 306 312 318 324 330 336 342 348 354 360" y="695">Températures 85<tspan class="z">0</tspan>hPa et 5<tspan class="z">00</tspan>hPa (°C) , précipitations (mm)</text>
<text x="449.5 455.5 461.5 467.5 473.5 479.5 485.5 491.5 497.5 503.5 509.5 515.5 521.5 527.5 533.5 539.5 545.5 551.5 557.5 563.5 569.5 575.5 581.5 587.5 593.5 599.5 605.5 611.5 614.7 623.5 629.5 635.5 641.5" y="679 679 679 679 679 679 679 679 679 679 679 679 679 679 679 679 679 679 679 679 679 679 679 679 679 679 679 679 680.1 679 679 679 679">Ensemble GEFS du 18/<tspan class="z">0</tspan>4/2<tspan class="z">0</tspan>26 <tspan class="h">-</tspan> <tspan class="z">0</tspan>6Z</text>
<text class="b" x="449 456 463 470 477 484 491 498 505 512 519 526 533 540 547 554 561 568 575 582 589 596 603 610 617 624 631" y="696">Copyright 2<tspan class="z">0</tspan>26 Meteociel.fr</text>
</g>
</svg></body></html>
